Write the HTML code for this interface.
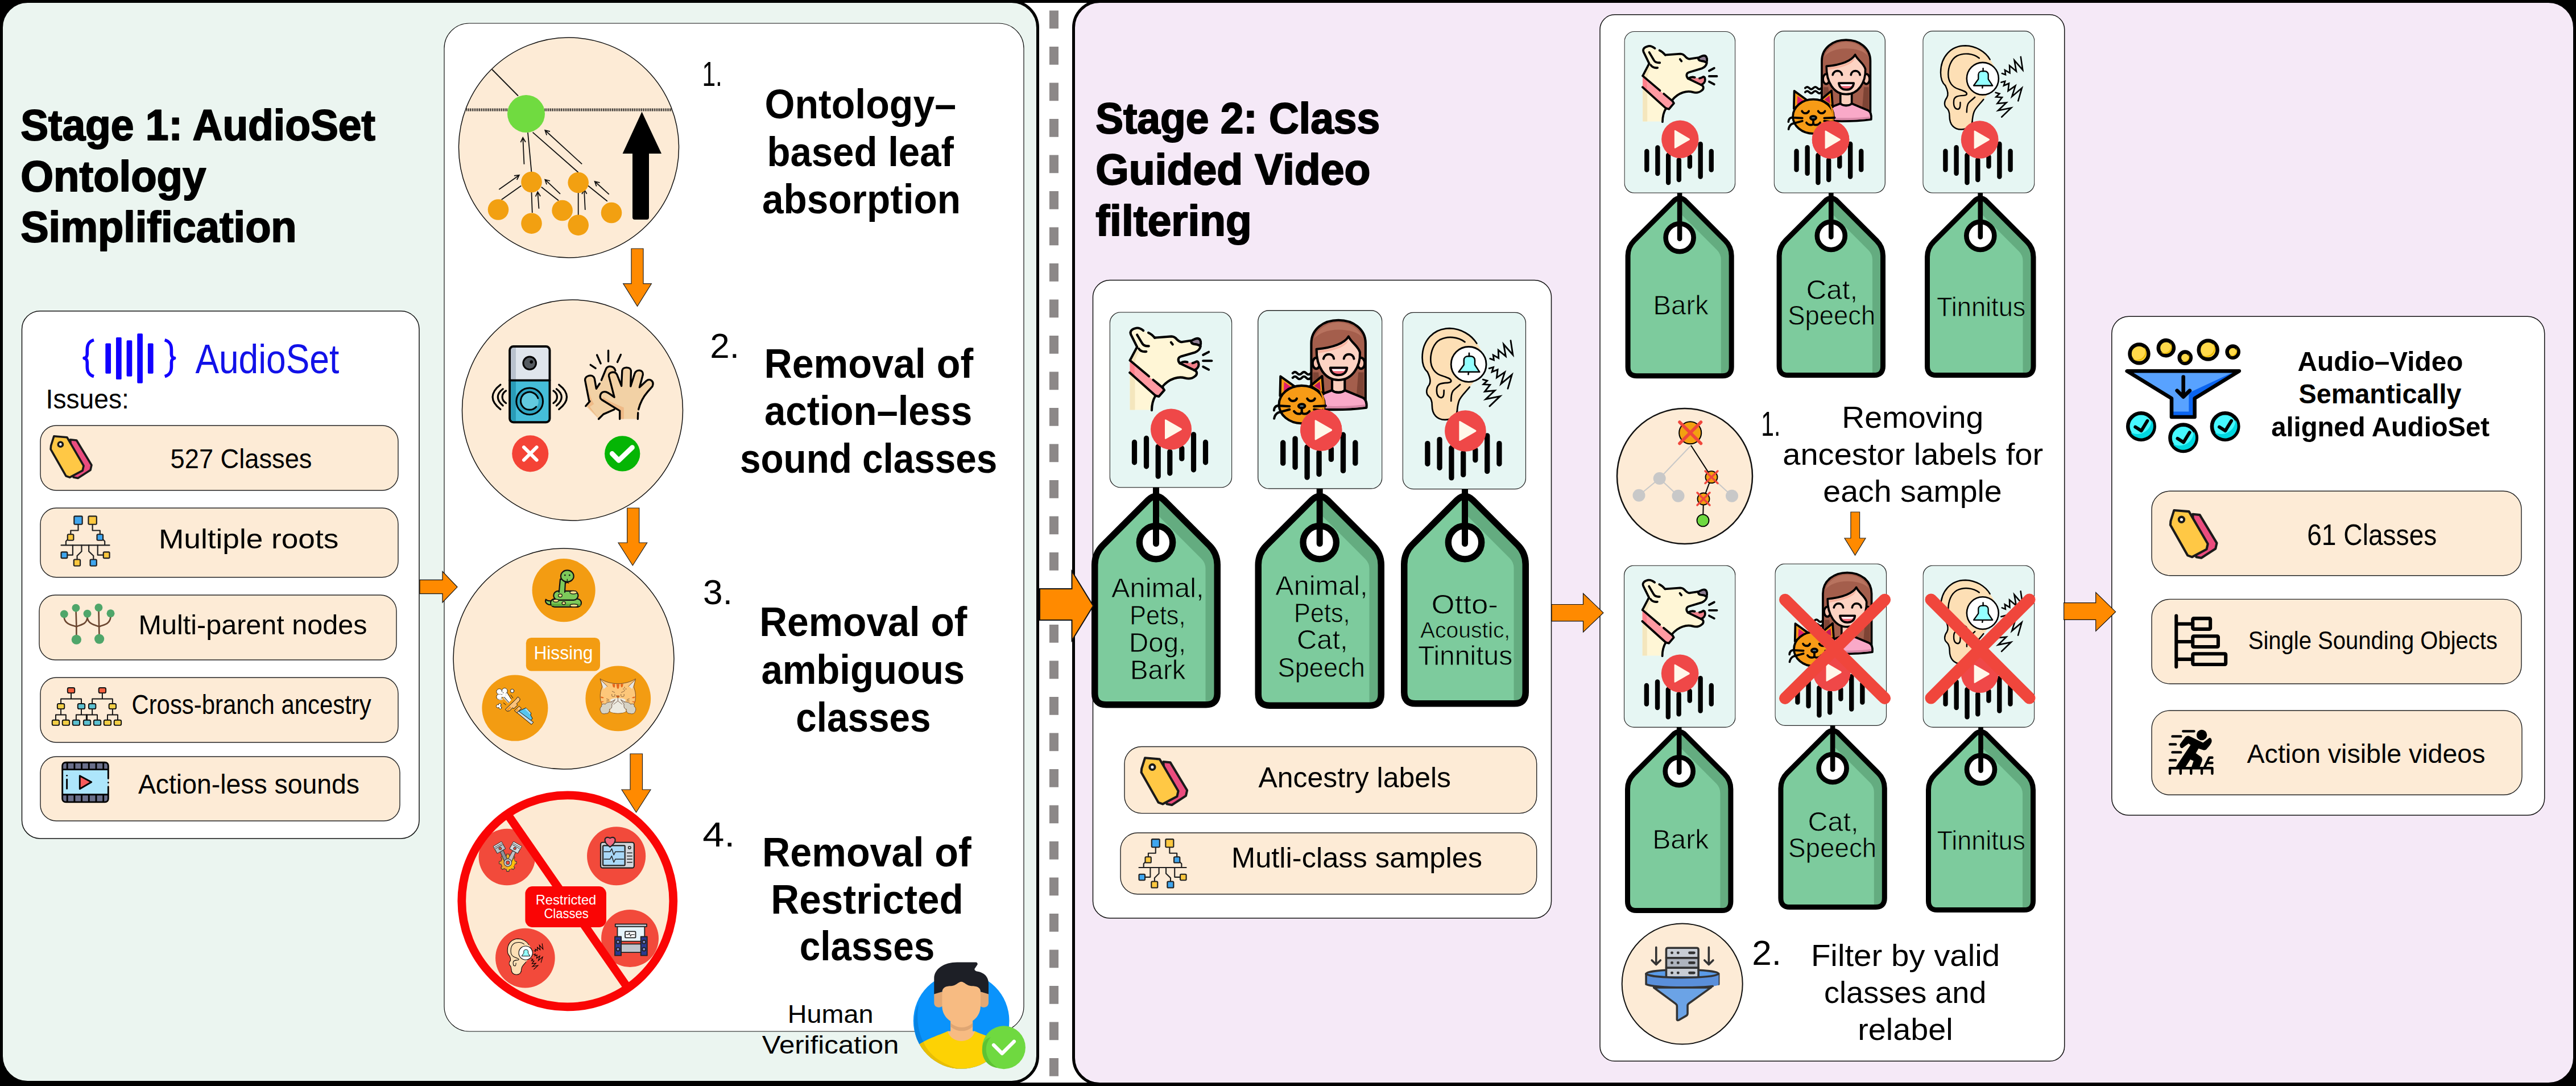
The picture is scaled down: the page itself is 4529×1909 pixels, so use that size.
<!DOCTYPE html>
<html><head><meta charset="utf-8"><title>AudioSet pipeline</title>
<style>
html,body{margin:0;padding:0;background:#fff;}
body{width:4529px;height:1909px;overflow:hidden;}
svg{display:block;font-family:"Liberation Sans", sans-serif;}
</style></head><body>
<svg width="4529" height="1909" viewBox="0 0 4529 1909">
<defs><symbol id="card-dog" viewBox="0 0 216 309" preserveAspectRatio="none"><rect x="0.75" y="0.75" width="214.5" height="307.5" rx="19" fill="#E6F6F3" stroke="#222" stroke-width="1.3"/><g transform="translate(29.5,21.8) scale(0.14733)" stroke-linecap="round" stroke-linejoin="round"><path d="M45,1020 L45,430 L130,270 L55,120 C40,80 70,55 120,45 C150,40 180,55 205,75 L265,100 C300,115 320,135 340,160 L540,145 C570,145 590,160 610,185 C630,205 650,215 670,210 L770,195 C800,185 820,165 850,165 C880,165 895,195 892,235 C885,300 860,320 820,335 L650,385 C620,395 610,430 640,465 L820,550 C850,565 850,600 820,620 C790,645 750,655 700,640 C630,620 520,640 430,745 L350,850 C320,900 305,970 300,1020 Z" fill="#FFF6D6"/><path d="M45,600 L105,650 L105,1020 L45,1020 Z" fill="#F4E6BD"/><path d="M470,690 C560,610 650,600 760,625 C800,630 830,610 845,590 C850,620 820,640 760,650 C660,640 560,640 470,720 Z" fill="#F4E6BD"/><path d="M45,445 L130,300 L150,330 C120,380 110,420 105,460 Z" fill="#F4E6BD"/><path d="M45,440 L440,760 L458,785 L388,862 L350,852 L45,578 Z" fill="#FF9AA2"/><path d="M45,440 L100,485 L100,625 L45,578 Z" fill="#FF7F8A"/><path d="M772,198 C800,186 822,168 850,168 C880,168 893,195 890,232 L884,258 C862,244 842,236 812,236 C787,234 776,218 772,198 Z" fill="#8E7D92"/><path d="M660,468 C720,458 780,462 840,442 C862,462 860,505 812,542 Z" fill="#F0808A"/><path fill="none" stroke="#000" stroke-width="28" d="M45,430 L130,270"/><path fill="none" stroke="#000" stroke-width="28" d="M130,270 L55,120 C40,80 70,55 120,45 C150,40 180,55 205,75"/><path fill="none" stroke="#000" stroke-width="28" d="M265,100 C300,115 320,135 340,160"/><path fill="none" stroke="#000" stroke-width="28" d="M130,125 L190,225 C205,255 230,262 270,260"/><path fill="none" stroke="#000" stroke-width="28" d="M150,290 C170,320 200,330 240,325"/><path fill="none" stroke="#000" stroke-width="28" d="M340,160 L540,145 C570,145 590,160 610,185 C630,205 650,215 670,210 L770,195"/><path fill="none" stroke="#000" stroke-width="28" d="M772,198 C800,186 822,168 850,168 C880,168 893,195 890,232 L884,258 C862,244 842,236 812,236 C787,234 776,218 772,198 Z"/><path fill="none" stroke="#000" stroke-width="28" d="M888,262 C880,300 860,320 820,335 L650,385 C620,395 610,430 640,465"/><path fill="none" stroke="#000" stroke-width="28" d="M640,465 L820,550 C850,565 850,600 820,620 C790,645 750,655 700,640 C630,620 520,640 430,745"/><path fill="none" stroke="#000" stroke-width="28" d="M648,462 C672,446 700,442 730,450"/><path fill="none" stroke="#000" stroke-width="28" d="M792,462 C812,460 826,450 842,442 C862,442 870,470 862,500 C852,525 832,540 812,546"/><path fill="none" stroke="#000" stroke-width="28" d="M535,215 L555,240"/><path fill="none" stroke="#000" stroke-width="28" d="M350,850 C320,900 305,970 305,1025"/><path fill="none" stroke="#000" stroke-width="28" d="M45,430 L272,620"/><path fill="none" stroke="#000" stroke-width="28" d="M322,662 L438,758"/><path fill="none" stroke="#000" stroke-width="28" d="M42,576 L350,850"/><path fill="none" stroke="#000" stroke-width="28" d="M438,758 L455,785 L390,860 L350,850"/><path fill="none" stroke="#000" stroke-width="28" d="M918,365 L985,330"/><path fill="none" stroke="#000" stroke-width="28" d="M918,435 L1020,435"/><path fill="none" stroke="#000" stroke-width="28" d="M918,505 L985,540"/></g><rect x="39.4" y="224.3" width="9.2" height="44.5" rx="4.6" fill="#000"/><rect x="60.4" y="217.3" width="9.2" height="58.5" rx="4.6" fill="#000"/><rect x="81.1" y="231.8" width="9.2" height="61.4" rx="4.6" fill="#000"/><rect x="101.7" y="240.8" width="9.2" height="47.0" rx="4.6" fill="#000"/><rect x="122.7" y="234.8" width="9.2" height="27.4" rx="4.6" fill="#000"/><rect x="143.4" y="210.6" width="9.2" height="71.2" rx="4.6" fill="#000"/><rect x="164.4" y="224.3" width="9.2" height="44.5" rx="4.6" fill="#000"/><circle cx="108.5" cy="206" r="36" fill="#EF4848"/><path d="M97.5,190 L97.5,222 Q97.5,224 99.5,223 L126.5,207.5 Q128.5,206 126.5,204.5 L99.5,189 Q97.5,188 97.5,190 Z" fill="#FFF8EA"/></symbol><symbol id="card-wc" viewBox="0 0 216 309" preserveAspectRatio="none"><rect x="0.75" y="0.75" width="214.5" height="307.5" rx="19" fill="#E6F6F3" stroke="#222" stroke-width="1.3"/><rect x="39.4" y="224.3" width="9.2" height="44.5" rx="4.6" fill="#000"/><rect x="60.4" y="217.3" width="9.2" height="58.5" rx="4.6" fill="#000"/><rect x="81.1" y="231.8" width="9.2" height="61.4" rx="4.6" fill="#000"/><rect x="101.7" y="240.8" width="9.2" height="47.0" rx="4.6" fill="#000"/><rect x="122.7" y="234.8" width="9.2" height="27.4" rx="4.6" fill="#000"/><rect x="143.4" y="210.6" width="9.2" height="71.2" rx="4.6" fill="#000"/><rect x="164.4" y="224.3" width="9.2" height="44.5" rx="4.6" fill="#000"/><circle cx="110" cy="207" r="36" fill="#EF4848"/><path d="M99,191 L99,223 Q99,225 101,224 L128,208.5 Q130,207 128,205.5 L101,190 Q99,189 99,191 Z" fill="#FFF8EA"/><g transform="translate(24,10.4) scale(0.1565)" stroke-linecap="round" stroke-linejoin="round"><path d="M440,1000 L440,300 C440,140 580,45 740,45 C900,45 1040,140 1040,300 L1040,1000 Z" fill="#A45E4C" stroke="#000" stroke-width="26"/><path d="M470,250 C520,120 640,70 740,70 C860,70 960,130 1010,240 C960,180 860,150 740,150 C620,150 520,190 470,250 Z" fill="#B8735F"/><path d="M460,620 L520,620 L560,1000 L460,1000 Z" fill="#7E4435"/><path d="M960,620 L1020,620 L1020,1000 L930,1000 Z" fill="#7E4435"/><path d="M670,690 L670,820 C700,850 780,850 810,820 L810,690 Z" fill="#FCCFBD" stroke="#000" stroke-width="26"/><path d="M560,860 L670,818 C700,850 780,850 810,818 L1010,900 C1050,920 1055,960 1050,1010 C900,1030 700,1035 560,1030 Z" fill="#F9A9C8" stroke="#000" stroke-width="26"/><path d="M575,990 C700,995 900,995 1035,975 L1035,1000 C900,1018 700,1020 575,1018 Z" fill="#D889A8"/><ellipse cx="495" cy="520" rx="40" ry="60" fill="#FAC3B0" stroke="#000" stroke-width="26"/><ellipse cx="990" cy="520" rx="40" ry="60" fill="#FAC3B0" stroke="#000" stroke-width="26"/><path d="M498,365 C650,350 800,310 852,225 C880,290 960,330 978,400 C985,560 890,705 740,705 C590,705 495,560 498,365 Z" fill="#FDD3C3" stroke="#000" stroke-width="26"/><path d="M512,380 C650,370 790,330 850,260 C840,320 760,370 520,410 Z" fill="#F9B4A0"/><path fill="none" stroke="#000" stroke-width="26" d="M575,470 C590,405 680,405 690,470"/><path fill="none" stroke="#000" stroke-width="26" d="M800,470 C810,405 900,405 912,470"/><path d="M650,570 L835,570 C830,625 790,650 742,650 C690,650 655,620 650,570 Z" fill="#F06878" stroke="#000" stroke-width="26"/><path d="M668,584 L818,584 C812,600 800,606 790,606 L695,606 C682,606 672,598 668,584 Z" fill="#fff"/><path d="M95,880 L100,665 L255,775 Z" fill="#F79B16" stroke="#000" stroke-width="26"/><path d="M430,770 L560,662 L575,860 Z" fill="#F79B16" stroke="#000" stroke-width="26"/><path d="M135,830 L140,725 L215,780 Z" fill="#E01E6C"/><path d="M470,770 L535,720 L545,820 Z" fill="#C4195E"/><ellipse cx="335" cy="975" rx="252" ry="208" fill="#F79B16" stroke="#000" stroke-width="26"/><path d="M520,800 C600,870 610,1000 560,1100 C580,1000 570,880 520,800 Z" fill="#E58A0A"/><path fill="none" stroke="#000" stroke-width="26" d="M195,910 C215,945 265,945 280,910"/><path fill="none" stroke="#000" stroke-width="26" d="M395,910 C415,945 465,945 480,910"/><ellipse cx="335" cy="992" rx="36" ry="22" fill="#5E7E8E" stroke="#000" stroke-width="26"/><path fill="none" stroke="#000" stroke-width="26" d="M335,1012 L335,1060"/><path fill="none" stroke="#000" stroke-width="26" d="M250,1050 C280,1090 330,1082 335,1060 C340,1082 390,1090 420,1050"/><path fill="none" stroke="#000" stroke-width="26" d="M200,995 L70,988 C45,992 30,1010 28,1040"/><path fill="none" stroke="#000" stroke-width="26" d="M200,1030 L80,1062 C50,1075 35,1100 30,1130"/><path fill="none" stroke="#000" stroke-width="26" d="M470,995 L600,990"/><path fill="none" stroke="#000" stroke-width="26" d="M470,1030 L612,1048"/><path fill="none" stroke="#000" stroke-width="26" stroke-width="20" d="M235,630 q25,-28 50,0 t50,0 t50,0 t50,0"/><path fill="none" stroke="#000" stroke-width="26" stroke-width="20" d="M235,680 q25,-28 50,0 t50,0 t50,0 t50,0"/></g><circle cx="110" cy="207" r="36" fill="#EF4848"/><path d="M99,191 L99,223 Q99,225 101,224 L128,208.5 Q130,207 128,205.5 L101,190 Q99,189 99,191 Z" fill="#FFF8EA"/></symbol><symbol id="card-ear" viewBox="0 0 216 309" preserveAspectRatio="none"><rect x="0.75" y="0.75" width="214.5" height="307.5" rx="19" fill="#E6F6F3" stroke="#222" stroke-width="1.3"/><g transform="translate(24.5,16.5) scale(0.16575)" stroke-linecap="round" stroke-linejoin="round"><path d="M638,232 C580,140 470,75 350,72 C180,72 62,200 62,380 C62,450 82,500 117,530 C147,590 150,640 135,665 C100,710 100,760 130,785 C160,810 165,840 165,880 C165,980 220,1032 300,1032 C370,1032 420,990 430,940 C440,870 455,820 485,780 L600,640 L700,450 L680,300 Z" fill="#FDDFB5"/><path fill="none" stroke="#000" stroke-width="16" d="M635,230 C580,140 470,75 350,72 C180,72 62,200 62,380 C62,450 82,500 117,530 C147,590 150,640 135,665 C100,710 100,760 130,785 C160,810 165,840 165,880 C165,980 220,1032 300,1032 C370,1032 420,990 430,940"/><path fill="none" stroke="#000" stroke-width="16" d="M560,688 C520,740 470,780 450,830 C435,870 430,920 428,950"/><path fill="none" stroke="#000" stroke-width="16" d="M510,215 C440,160 330,150 250,190 C180,230 150,320 150,400 C150,490 200,550 270,570 C330,590 360,600 365,620 C370,640 340,645 300,645 C250,650 220,660 215,700 C210,750 220,795 260,800 C290,800 290,760 290,722"/><path fill="none" stroke="#000" stroke-width="16" d="M460,662 C420,700 400,710 385,730 C365,760 365,800 365,835"/><circle cx="550" cy="450" r="185" fill="#fff" stroke="#000" stroke-width="17"/><path d="M445,530 L500,455 L500,405 C500,380 520,365 545,365 L575,365 C600,365 615,385 615,405 L615,455 L665,530 Z" fill="#94FFFF" stroke="#000" stroke-width="15"/><path fill="none" stroke="#000" stroke-width="16" d="M555,332 L555,365"/><path fill="none" stroke="#000" stroke-width="16" d="M549,536 L546,556"/><path fill="none" stroke="#000" stroke-width="17" stroke-linejoin="miter" d="M775,390 L815,405 L808,352 L865,385 L862,300 L940,365 L918,240 L1015,350 L992,200"/><path fill="none" stroke="#000" stroke-width="17" stroke-linejoin="miter" d="M765,492 L810,480 L795,530 L855,505 L845,590 L930,532 L890,655 L1005,558 L962,705"/><path fill="none" stroke="#000" stroke-width="17" stroke-linejoin="miter" d="M700,610 L745,622 L705,660 L775,665 L720,735 L825,725 L730,815 L880,785 L770,890"/></g><rect x="39.4" y="224.3" width="9.2" height="44.5" rx="4.6" fill="#000"/><rect x="60.4" y="217.3" width="9.2" height="58.5" rx="4.6" fill="#000"/><rect x="81.1" y="231.8" width="9.2" height="61.4" rx="4.6" fill="#000"/><rect x="101.7" y="240.8" width="9.2" height="47.0" rx="4.6" fill="#000"/><rect x="122.7" y="234.8" width="9.2" height="27.4" rx="4.6" fill="#000"/><rect x="143.4" y="210.6" width="9.2" height="71.2" rx="4.6" fill="#000"/><rect x="164.4" y="224.3" width="9.2" height="44.5" rx="4.6" fill="#000"/><circle cx="110" cy="207" r="36" fill="#EF4848"/><path d="M99,191 L99,223 Q99,225 101,224 L128,208.5 Q130,207 128,205.5 L101,190 Q99,189 99,191 Z" fill="#FFF8EA"/></symbol></defs>
<rect x="0" y="0" width="4529" height="1909" fill="#fff"/>
<rect x="0" y="0" width="70" height="1909" fill="#000"/>
<rect x="4459" y="0" width="70" height="1909" fill="#000"/>
<rect x="0" y="0" width="4529" height="5" fill="#000"/>
<rect x="0" y="1903" width="4529" height="6" fill="#000"/>
<rect x="2.5" y="2.5" width="1822" height="1900" rx="46" fill="#EBF5F0" stroke="#000" stroke-width="5"/>
<rect x="1887.5" y="2.5" width="2639" height="1903" rx="46" fill="#F5E9F7" stroke="#000" stroke-width="5"/>
<line x1="1853" y1="18.4" x2="1853" y2="1909" stroke="#8C8888" stroke-width="16" stroke-dasharray="31.75 31.75"/>
<text x="36.2" y="246.0" font-size="76.0" font-weight="bold" textLength="623.6" lengthAdjust="spacingAndGlyphs" stroke="#000" stroke-width="2" stroke-linejoin="round">Stage 1: AudioSet</text>
<text x="36.2" y="336.0" font-size="76.0" font-weight="bold" textLength="326.1" lengthAdjust="spacingAndGlyphs" stroke="#000" stroke-width="2" stroke-linejoin="round">Ontology</text>
<text x="36.2" y="425.4" font-size="76.0" font-weight="bold" textLength="485.4" lengthAdjust="spacingAndGlyphs" stroke="#000" stroke-width="2" stroke-linejoin="round">Simplification</text>
<rect x="38.5" y="546.7" width="698.5" height="927.3" rx="32" fill="#fff" stroke="#111" stroke-width="1.5"/>
<g transform="translate(130,570) scale(0.18633424637114057)" stroke-linecap="round" stroke-linejoin="round"><rect x="297" y="180" width="52" height="285" rx="9" fill="#1100FF"/><rect x="397" y="123" width="52" height="398" rx="9" fill="#1100FF"/><rect x="497" y="152" width="52" height="340" rx="9" fill="#1100FF"/><rect x="597" y="87" width="52" height="470" rx="9" fill="#1100FF"/><rect x="697" y="180" width="52" height="285" rx="9" fill="#1100FF"/><path fill="none" stroke="#1100FF" stroke-width="30" stroke-linecap="butt" d="M188,148 C140,162 125,192 125,240 L125,282 C125,305 112,318 97,320 C112,322 125,335 125,358 L125,400 C125,448 140,478 188,492"/><path fill="none" stroke="#1100FF" stroke-width="30" stroke-linecap="butt" d="M857,148 C905,162 920,192 920,240 L920,282 C920,305 933,318 948,320 C933,322 920,335 920,358 L920,400 C920,448 905,478 857,492"/></g>
<text x="343.4" y="656.0" font-size="73.0" fill="#1111E8" textLength="252.8" lengthAdjust="spacingAndGlyphs">AudioSet</text>
<text x="80.6" y="717.6" font-size="48.0" textLength="146.2" lengthAdjust="spacingAndGlyphs">Issues:</text>
<rect x="71.0" y="748.0" width="629.0" height="114.0" rx="28" fill="#FDEBD6" stroke="#222" stroke-width="1.4"/>
<text x="299.6" y="823.0" font-size="48.0" textLength="248.8" lengthAdjust="spacingAndGlyphs">527 Classes</text>
<rect x="71.0" y="893.0" width="629.0" height="121.7" rx="28" fill="#FDEBD6" stroke="#222" stroke-width="1.4"/>
<text x="279.0" y="964.3" font-size="48.0" textLength="316.3" lengthAdjust="spacingAndGlyphs">Multiple roots</text>
<rect x="69.0" y="1046.0" width="628.0" height="114.0" rx="28" fill="#FDEBD6" stroke="#222" stroke-width="1.4"/>
<text x="243.6" y="1115.0" font-size="48.0" textLength="401.8" lengthAdjust="spacingAndGlyphs">Multi-parent nodes</text>
<rect x="71.0" y="1191.0" width="629.0" height="114.0" rx="28" fill="#FDEBD6" stroke="#222" stroke-width="1.4"/>
<text x="231.4" y="1254.5" font-size="48.0" textLength="421.3" lengthAdjust="spacingAndGlyphs">Cross-branch ancestry</text>
<rect x="71.0" y="1330.0" width="632.0" height="113.0" rx="28" fill="#FDEBD6" stroke="#222" stroke-width="1.4"/>
<text x="242.9" y="1394.5" font-size="48.0" textLength="389.1" lengthAdjust="spacingAndGlyphs">Action-less sounds</text>
<g transform="translate(80,750) scale(0.23952)" stroke-linecap="round" stroke-linejoin="round"><path d="M182,95 L228,100 L338,282 L330,318 L238,378 L205,372 Z" fill="#EA4C7E" stroke="#1A1A1A" stroke-width="15"/><path d="M62,70 L158,78 L280,287 L272,322 L178,372 L150,362 L38,165 L40,140 Z" fill="#FFC845" stroke="#1A1A1A" stroke-width="15"/><circle cx="110" cy="130" r="17" fill="#fff" stroke="#1A1A1A" stroke-width="15" stroke-width="12"/></g>
<g transform="translate(80,750) scale(0.23952)" stroke-linecap="round" stroke-linejoin="round"><path fill="none" stroke="#1F1F1F" stroke-width="9" d="M240,717 L240,762 L185,762 L185,790"/><path fill="none" stroke="#1F1F1F" stroke-width="9" d="M345,717 L345,762 L400,762 L400,790"/><path fill="none" stroke="#1F1F1F" stroke-width="9" d="M165,826 L150,841 L150,868"/><path fill="none" stroke="#1F1F1F" stroke-width="9" d="M420,826 L435,841 L435,868"/><path fill="none" stroke="#1F1F1F" stroke-width="9" d="M115,870 L470,870"/><path fill="none" stroke="#1F1F1F" stroke-width="9" d="M200,870 L200,942 L160,942"/><path fill="none" stroke="#1F1F1F" stroke-width="9" d="M265,870 L265,915 L232,948 L232,975"/><path fill="none" stroke="#1F1F1F" stroke-width="9" d="M318,870 L318,915 L352,948 L352,975"/><path fill="none" stroke="#1F1F1F" stroke-width="9" d="M383,870 L383,942 L425,942"/><rect x="210" y="657" width="60" height="60" rx="7" fill="#3FA6EF" stroke="#1F1F1F" stroke-width="9"/><rect x="315" y="657" width="60" height="60" rx="7" fill="#FCC83F" stroke="#1F1F1F" stroke-width="9"/><rect x="162" y="790" width="44" height="44" rx="7" fill="#FCC83F" stroke="#1F1F1F" stroke-width="9"/><rect x="378" y="790" width="44" height="44" rx="7" fill="#3FA6EF" stroke="#1F1F1F" stroke-width="9"/><rect x="115" y="920" width="45" height="45" rx="7" fill="#3FA6EF" stroke="#1F1F1F" stroke-width="9"/><rect x="208" y="975" width="47" height="47" rx="7" fill="#FCC83F" stroke="#1F1F1F" stroke-width="9"/><rect x="328" y="975" width="47" height="47" rx="7" fill="#3FA6EF" stroke="#1F1F1F" stroke-width="9"/><rect x="425" y="920" width="45" height="45" rx="7" fill="#FCC83F" stroke="#1F1F1F" stroke-width="9"/></g>
<g transform="translate(80,1050) scale(0.23952)" stroke-linecap="round" stroke-linejoin="round"><path fill="none" stroke="#6B4630" stroke-width="11" d="M227,310 L227,210 L223,78"/><path fill="none" stroke="#6B4630" stroke-width="11" d="M137,150 C145,200 200,205 227,215 C260,200 300,200 307,150"/><path fill="none" stroke="#6B4630" stroke-width="11" d="M390,75 L395,305"/><path fill="none" stroke="#6B4630" stroke-width="11" d="M307,150 C315,200 370,205 395,215 C430,200 470,200 478,145"/><circle cx="137" cy="123" r="29" fill="#4FA66A"/><circle cx="223" cy="78" r="29" fill="#4FA66A"/><circle cx="307" cy="120" r="29" fill="#4FA66A"/><circle cx="390" cy="75" r="29" fill="#4FA66A"/><circle cx="478" cy="118" r="29" fill="#4FA66A"/><circle cx="227" cy="310" r="36" fill="#4FA66A"/><circle cx="395" cy="305" r="36" fill="#4FA66A"/></g>
<g transform="translate(80,1050) scale(0.23952)" stroke-linecap="round" stroke-linejoin="round"><path fill="none" stroke="#111" stroke-width="8" d="M188,703 L188,745 M113,780 L113,745 L263,745 L263,780"/><path fill="none" stroke="#111" stroke-width="8" d="M417,703 L417,745 M343,780 L343,745 L492,745 L492,780"/><path fill="none" stroke="#111" stroke-width="8" d="M113,820 L113,860 M75,900 L75,862 L150,862 L150,900"/><path fill="none" stroke="#111" stroke-width="8" d="M263,820 L263,860 M225,900 L225,862 L305,862 L305,900"/><path fill="none" stroke="#111" stroke-width="8" d="M343,820 L343,860 M300,900 L300,862 L380,862 L380,900"/><path fill="none" stroke="#111" stroke-width="8" d="M492,820 L492,860 M455,900 L455,862 L530,862 L530,900"/><rect x="162" y="664" width="52" height="38" rx="10" fill="#F5603F" stroke="#111" stroke-width="8"/><rect x="391" y="664" width="52" height="38" rx="10" fill="#F5603F" stroke="#111" stroke-width="8"/><rect x="87" y="781" width="52" height="38" rx="10" fill="#F3CF46" stroke="#111" stroke-width="8"/><rect x="237" y="781" width="52" height="38" rx="10" fill="#5CC0D0" stroke="#111" stroke-width="8"/><rect x="317" y="781" width="52" height="38" rx="10" fill="#5CC0D0" stroke="#111" stroke-width="8"/><rect x="466" y="781" width="52" height="38" rx="10" fill="#F3CF46" stroke="#111" stroke-width="8"/><rect x="49" y="901" width="52" height="38" rx="10" fill="#F3CF46" stroke="#111" stroke-width="8"/><rect x="124" y="901" width="52" height="38" rx="10" fill="#F3CF46" stroke="#111" stroke-width="8"/><rect x="199" y="901" width="52" height="38" rx="10" fill="#5CC0D0" stroke="#111" stroke-width="8"/><rect x="279" y="901" width="52" height="38" rx="10" fill="#5CC0D0" stroke="#111" stroke-width="8"/><rect x="354" y="901" width="52" height="38" rx="10" fill="#5CC0D0" stroke="#111" stroke-width="8"/><rect x="429" y="901" width="52" height="38" rx="10" fill="#F3CF46" stroke="#111" stroke-width="8"/><rect x="504" y="901" width="52" height="38" rx="10" fill="#F3CF46" stroke="#111" stroke-width="8"/></g>
<g transform="translate(90,1320) scale(0.1105)" stroke-linecap="round" stroke-linejoin="round"><rect x="178" y="183" width="731" height="630" rx="55" fill="#6A6F8A"/><rect x="178" y="300" width="731" height="392" fill="#ADE6FB"/><path fill="none" stroke="#000" stroke-width="26" stroke-linecap="butt" d="M255,190 L255,295 M255,695 L255,805"/><path fill="none" stroke="#000" stroke-width="26" stroke-linecap="butt" d="M370,190 L370,295 M370,695 L370,805"/><path fill="none" stroke="#000" stroke-width="26" stroke-linecap="butt" d="M485,190 L485,295 M485,695 L485,805"/><path fill="none" stroke="#000" stroke-width="26" stroke-linecap="butt" d="M600,190 L600,295 M600,695 L600,805"/><path fill="none" stroke="#000" stroke-width="26" stroke-linecap="butt" d="M715,190 L715,295 M715,695 L715,805"/><path fill="none" stroke="#000" stroke-width="26" stroke-linecap="butt" d="M830,190 L830,295 M830,695 L830,805"/><path fill="none" stroke="#000" stroke-width="26" stroke-linecap="butt" d="M178,295 L909,295 M178,695 L909,695"/><path fill="none" stroke="#000" stroke-width="26" d="M908,440 L908,235 C908,205 885,183 855,183 L232,183 C202,183 178,205 178,235 L178,760 C178,790 202,813 232,813 L855,813 C885,813 908,790 908,760 L908,570"/><circle cx="908" cy="505" r="13" fill="#000"/><path d="M455,395 L455,605 L640,495 Z" fill="#F85B5B" stroke="#000" stroke-width="26"/><circle cx="250" cy="392" r="13" fill="#000"/><path fill="none" stroke="#000" stroke-width="26" d="M250,455 L250,600"/></g>
<rect x="781.0" y="41.0" width="1019.0" height="1772.0" rx="44" fill="#fff" stroke="#111" stroke-width="1.2"/>
<circle cx="1000.0" cy="259.5" r="193.5" fill="#FDEBD6" stroke="#111" stroke-width="1.5"/>
<circle cx="1006.5" cy="721.0" r="194.0" fill="#FDEBD6" stroke="#111" stroke-width="1.5"/>
<circle cx="991.0" cy="1158.0" r="194.0" fill="#FDEBD6" stroke="#111" stroke-width="1.5"/>
<line x1="820" y1="193" x2="1180" y2="193" stroke="#111" stroke-width="5" stroke-dasharray="1.6 1.6"/><path stroke="#111" stroke-width="1.8" fill="none" d="M865,122 L911,168.5"/><path stroke="#111" stroke-width="1.8" fill="none" d="M928,233 L934.5,303 M936.6,232.6 L1016.7,303"/><path stroke="#111" stroke-width="1.8" fill="none" d="M916.3,326.5 L881.7,351 M934.5,338 L935.8,374 M951.8,328.7 L982,352.5 M1016.7,338 L1016.7,378 M1034,326.5 L1067.8,353.8"/><path stroke="#111" stroke-width="1.8" fill="none" d="M921.5,288.8 L919.3,242.0 M924.0,249.7 L919.3,242.0 L915.4,250.1"/><path stroke="#111" stroke-width="1.8" fill="none" d="M1023.2,288.4 L958.3,229.0 M967.0,231.1 L958.3,229.0 L961.2,237.5"/><path stroke="#111" stroke-width="1.8" fill="none" d="M877.3,333.0 L912.8,307.9 M908.8,316.0 L912.8,307.9 L903.9,308.9"/><path stroke="#111" stroke-width="1.8" fill="none" d="M985.0,340.8 L958.3,315.7 M967.0,318.0 L958.3,315.7 L961.1,324.3"/><path stroke="#111" stroke-width="1.8" fill="none" d="M947.5,366.7 L945.3,337.3 M950.2,344.9 L945.3,337.3 L941.6,345.5"/><path stroke="#111" stroke-width="1.8" fill="none" d="M1028.8,369.0 L1027.0,333.0 M1031.7,340.7 L1027.0,333.0 L1023.1,341.1"/><path stroke="#111" stroke-width="1.8" fill="none" d="M1070.8,341.6 L1045.7,319.0 M1054.5,321.1 L1045.7,319.0 L1048.7,327.5"/><circle cx="925" cy="200" r="33" fill="#70DB40"/><circle cx="934.5" cy="320" r="18.3" fill="#F2A011"/><circle cx="1016.7" cy="321" r="18.3" fill="#F2A011"/><circle cx="876" cy="368.5" r="18.3" fill="#F2A011"/><circle cx="934.5" cy="392.7" r="18.3" fill="#F2A011"/><circle cx="988.6" cy="370" r="18.3" fill="#F2A011"/><circle cx="1016.7" cy="395.7" r="18.3" fill="#F2A011"/><circle cx="1075" cy="374" r="18.3" fill="#F2A011"/><path d="M1112,270 L1094.6,270 L1128.5,196.6 L1163,270 L1141,270 L1141,382 Q1141,386 1137,386 L1116,386 Q1112,386 1112,382 Z" fill="#000"/>
<g transform="translate(855,595) scale(0.21646427257181203)" stroke-linecap="round" stroke-linejoin="round"><rect x="190" y="65" width="325" height="615" rx="30" fill="#DFE5EC"/><path d="M190,340 L515,340 L515,650 Q515,680 485,680 L220,680 Q190,680 190,650 Z" fill="#45BDD9"/><path d="M200,95 Q200,75 220,75 L240,75 L240,340 L200,340 Z" fill="#B9C2CE"/><path d="M200,340 L240,340 L240,670 L220,670 Q200,670 200,650 Z" fill="#2A9CB8"/><rect x="190" y="65" width="325" height="615" rx="30" fill="none" stroke="#000" stroke-width="18"/><path d="M190,340 L515,340" stroke="#000" stroke-width="18"/><circle cx="352" cy="200" r="52" fill="#555B61" stroke="#000" stroke-width="14"/><circle cx="366" cy="190" r="13" fill="#000"/><circle cx="352" cy="510" r="108" fill="#2FA5C2" stroke="#000" stroke-width="14"/><circle cx="352" cy="510" r="72" fill="#62CADF"/><path d="M420,485 A72,72 0 1 0 405,555" fill="none" stroke="#000" stroke-width="14"/><path fill="none" stroke="#000" stroke-width="15" d="M115,375 C30,440 30,510 115,575 M135,410 C80,450 80,500 135,545 M160,425 C120,450 120,500 160,525"/><path fill="none" stroke="#000" stroke-width="15" d="M590,375 C675,440 675,510 590,575 M570,410 C625,450 625,500 570,545 M545,425 C585,450 585,500 545,525"/><circle cx="357" cy="935" r="148" fill="#F44336"/><path d="M305,883 L409,987 M409,883 L305,987" stroke="#fff" stroke-width="28" fill="none"/><circle cx="1105" cy="935" r="144" fill="#05B505"/><path d="M1022,935 L1075,990 L1185,885" stroke="#fff" stroke-width="40" fill="none"/></g><g transform="translate(1025,612) scale(0.11970313622216903)" stroke-linecap="round" stroke-linejoin="round"><path d="M40,850 L90,780 L30,470 C25,400 150,370 170,450 L195,595 L240,520 L270,470 L340,300 C370,250 460,260 475,330 L480,420 L470,720 L530,920 L460,900 L300,970 L230,1040 Z" fill="#F2D1A5"/><path d="M55,470 C70,600 120,780 200,880 L300,960 L230,1030 L60,850 L110,790 Z" fill="#EFBA87"/><path d="M100,860 L160,820 L300,960 L230,1030 Z" fill="#F2D1A5"/><path fill="none" stroke="#000" stroke-width="28" d="M40,850 L100,780 M90,775 L30,470 C25,400 150,370 170,450 L195,595 M195,595 L245,520 M270,470 L340,300 C370,250 460,260 475,330 M230,1040 L300,970 L460,900"/><path d="M540,1040 L540,920 L280,760 C230,730 250,640 320,640 C350,640 380,660 460,720 L380,410 C370,350 470,330 500,390 L565,555 L575,330 C580,270 700,270 705,330 L700,560 L760,370 C790,300 890,320 880,390 L830,575 L930,480 C980,440 1050,480 1020,560 L950,640 C880,720 840,800 815,900 L805,1040 Z" fill="#F2D1A5"/><path d="M280,760 L540,920 L600,900 L600,1040 L540,1040 L540,925 Z M300,720 C400,790 520,840 600,870 L600,900 L540,920 L280,760 Z" fill="#EFBA87"/><path fill="none" stroke="#000" stroke-width="28" d="M540,1040 L540,920 L280,760 C230,730 250,640 320,640 C350,640 380,660 460,720 L380,410 C370,350 470,330 500,390 L565,555 L575,330 C580,270 700,270 705,330 L700,560 L760,370 C790,300 890,320 880,390 L830,575 L930,480 C980,440 1050,480 1020,560 L950,640 C880,720 840,800 815,900 M808,950 L805,1040"/><path fill="none" stroke="#000" stroke-width="28" d="M110,245 L185,295 M205,100 L260,225 M372,35 L372,195 M555,95 L505,205"/></g>
<g transform="translate(840,975) scale(0.30846108763379504)" stroke-linecap="round" stroke-linejoin="round"><circle cx="490" cy="203" r="180" fill="#F39C12"/><circle cx="212" cy="874" r="188" fill="#F39C12"/><circle cx="800" cy="820" r="186" fill="#F39C12"/><rect x="275" y="473" width="422" height="190" rx="30" fill="#F39C12"/><path d="M425,285 C400,290 380,275 388,255 C395,262 410,265 425,262 Z" fill="#7DC95A" stroke="#111" stroke-width="7"/><rect x="415" y="252" width="175" height="46" rx="23" fill="#7DC95A" stroke="#111" stroke-width="7"/><path d="M420,280 L585,280 L585,292 L420,292 Z" fill="#5DAA3A"/><rect x="432" y="207" width="140" height="52" rx="26" fill="#7DC95A" stroke="#111" stroke-width="7"/><path d="M463,214 L470,140 L500,140 L496,214" fill="#7DC95A" stroke="#111" stroke-width="7"/><ellipse cx="510" cy="122" rx="37" ry="33" fill="#7DC95A" stroke="#111" stroke-width="7"/><ellipse cx="470" cy="233" rx="11" ry="9" fill="#F8E08A" stroke="#111" stroke-width="4"/><ellipse cx="545" cy="215" rx="20" ry="9" fill="#F8E08A" stroke="#111" stroke-width="4"/><ellipse cx="445" cy="262" rx="16" ry="8" fill="#F8E08A" stroke="#111" stroke-width="4"/><ellipse cx="490" cy="276" rx="10" ry="8" fill="#F8E08A" stroke="#111" stroke-width="4"/><ellipse cx="548" cy="290" rx="22" ry="8" fill="#F8E08A" stroke="#111" stroke-width="4"/><circle cx="497" cy="117" r="4.5" fill="#111"/><circle cx="523" cy="117" r="4.5" fill="#111"/><path d="M510,140 L510,160 M502,153 L518,163 M518,153 L502,163" stroke="#111" stroke-width="4"/></g><g transform="translate(860,1200) scale(0.08285004142502071)" stroke-linecap="round" stroke-linejoin="round"><path d="M290,275 L380,210 L470,365 L410,430 Z" fill="#fff"/><path d="M300,330 L330,300 L430,420 L405,435 Z" fill="#DADADA"/><path d="M290,275 L420,420 M380,210 L470,350" fill="none" stroke="#111" stroke-width="12"/><g stroke="#111" stroke-width="12" fill="#fff"><circle cx="215" cy="190" r="58"/><circle cx="330" cy="175" r="58"/><circle cx="215" cy="300" r="58"/><circle cx="300" cy="260" r="50"/></g><g fill="#fff"><circle cx="215" cy="190" r="52"/><circle cx="330" cy="175" r="52"/><circle cx="215" cy="300" r="52"/><circle cx="300" cy="250" r="60"/></g><path d="M175,320 C200,345 240,350 270,330 L300,360 C260,375 210,370 175,340 Z" fill="#DADADA"/><circle cx="268" cy="250" r="9" fill="#111"/><circle cx="298" cy="215" r="9" fill="#111"/><g stroke="#111" stroke-width="12" fill="#fff"><circle cx="185" cy="500" r="32"/><circle cx="225" cy="470" r="28"/><circle cx="235" cy="530" r="28"/></g><g fill="#fff"><circle cx="185" cy="500" r="26"/><circle cx="225" cy="470" r="22"/><circle cx="235" cy="530" r="22"/><circle cx="212" cy="500" r="22"/></g><circle cx="490" cy="175" r="38" fill="#fff" stroke="#111" stroke-width="12"/><path d="M458,262 L505,325 M305,430 L355,470" fill="none" stroke="#111" stroke-width="12"/><path d="M600,615 L780,535 L890,645 L880,690 L920,760 L880,805 Z" fill="#56C5EE" stroke="#111" stroke-width="12"/><path d="M760,560 L790,545 L880,645 L870,670 Z" fill="#A9E3F8"/><path d="M590,630 L620,600 L940,840 L900,885 Z" fill="#C9DAE3" stroke="#111" stroke-width="12"/><path d="M345,565 L560,360 L610,300 L655,345 L645,385 L580,450 L605,475 L520,555 L500,530 L430,600 L385,605 Z" fill="#FCC27A" stroke="#111" stroke-width="12"/><path d="M365,570 L440,500 L470,530 L410,590 L390,595 Z" fill="#F99B1E"/><path d="M540,590 L635,500 L685,545 L590,635 Z" fill="#FCC27A" stroke="#111" stroke-width="12"/><path d="M560,590 L600,555 L620,575 L585,610 Z" fill="#F99B1E"/></g><g transform="translate(1040,1180) scale(0.08285004142502071)" stroke-linecap="round" stroke-linejoin="round"><path d="M185,160 C300,230 420,262 560,262 C700,262 820,230 935,160 L895,335 C925,400 940,480 935,560 C930,720 800,890 560,895 C320,890 190,720 185,560 C180,470 195,400 225,335 Z" fill="#FDC77A" stroke="#4A2A1A" stroke-width="9"/><path d="M198,195 L330,318 L258,378 Z" fill="#E6E6E6"/><path d="M922,195 L790,318 L862,378 Z" fill="#E6E6E6"/><path d="M195,180 L335,320 M925,180 L785,320" fill="none" stroke="#4A2A1A" stroke-width="9"/><path d="M440,270 L500,270 L495,340 C480,350 465,345 455,330 Z" fill="#E8661A"/><path d="M525,270 L595,270 L580,360 C570,375 550,375 540,360 Z" fill="#E8661A"/><path d="M615,270 L675,270 L660,325 C650,345 630,345 625,330 Z" fill="#E8661A"/><path d="M200,535 C230,540 255,550 265,565 C240,575 215,572 198,565 Z" fill="#E8661A"/><path d="M200,665 C230,660 255,650 265,640 C240,632 215,635 198,642 Z" fill="#E8661A"/><path d="M920,535 C890,540 865,550 855,565 C880,575 905,572 922,565 Z" fill="#E8661A"/><path d="M920,665 C890,660 865,650 855,640 C880,632 905,635 922,642 Z" fill="#E8661A"/><path d="M400,600 C450,560 670,560 720,600 L720,860 C650,895 470,895 400,860 Z" fill="#ECEAE0"/><path fill="none" stroke="#4A2A1A" stroke-width="8" d="M432,488 L432,520 C432,545 495,545 495,520 L495,488 M625,488 L625,520 C625,545 690,545 690,520 L690,488"/><path fill="none" stroke="#4A2A1A" stroke-width="8" d="M438,425 L490,450 M632,450 L688,425"/><path fill="none" stroke="#4A2A1A" stroke-width="8" d="M320,585 L365,600 M320,630 L365,625 M800,585 L755,600 M800,630 L755,625"/><path fill="none" stroke="#4A2A1A" stroke-width="8" d="M560,545 L560,630 L470,700 M560,630 L650,700"/><path d="M530,520 L590,520 C590,545 570,560 560,560 C550,560 530,545 530,520 Z" fill="#E8661A" stroke="#4A2A1A" stroke-width="6"/><path fill="none" stroke="#4A2A1A" stroke-width="8" d="M700,335 L700,355 M700,395 L700,415 M670,375 L685,375 M720,375 L740,375"/><path fill="#D6D2C4" stroke="#4A2A1A" stroke-width="9" d="M420,650 L500,600 L430,700 C440,760 420,800 380,805 C390,860 350,905 300,895 C260,915 200,895 195,850 C170,820 180,760 215,745 C200,700 250,680 290,700 C310,665 370,650 420,650 Z"/><path fill="#D6D2C4" stroke="#4A2A1A" stroke-width="9" d="M700,650 L620,600 L690,700 C680,760 700,800 740,805 C730,860 770,905 820,895 C860,915 920,895 925,850 C950,820 940,760 905,745 C920,700 870,680 830,700 C810,665 750,650 700,650 Z"/></g>
<text x="938.4" y="1159.0" font-size="33.0" fill="#fff" textLength="104.1" lengthAdjust="spacingAndGlyphs">Hissing</text>
<g transform="translate(800,1385) scale(0.3683241252302026)" stroke-linecap="round" stroke-linejoin="round"><circle cx="537" cy="540" r="505" fill="#FDEAD3"/><circle cx="248" cy="330" r="135" fill="#F24A3B"/><circle cx="770" cy="325" r="140" fill="#F24A3B"/><circle cx="335" cy="812" r="142" fill="#F24A3B"/><circle cx="835" cy="718" r="137" fill="#F24A3B"/><rect x="695" y="260" width="160" height="122" rx="10" fill="#D4D6DB" stroke="#222" stroke-width="6"/><rect x="706" y="275" width="105" height="95" rx="4" fill="#A9D8F7" stroke="#222" stroke-width="6"/><path d="M712,305 L740,305 L748,290 L758,320 L765,305 L805,305 M712,340 L740,340 L748,325 L758,355 L765,340 L805,340" stroke="#222" stroke-width="4" fill="none"/><circle cx="833" cy="285" r="6" fill="none" stroke="#222" stroke-width="4"/><path d="M822,310 L845,310 M822,325 L845,325 M822,340 L845,340 M822,355 L845,355" stroke="#222" stroke-width="4"/><path d="M740,282 C700,255 715,225 740,240 C765,225 780,255 740,282 Z" fill="#F4687E" stroke="#222" stroke-width="6"/><rect x="765" y="650" width="150" height="12" fill="#BFC4CC" stroke="#222" stroke-width="5"/><rect x="775" y="662" width="130" height="70" fill="#E6F4FA" stroke="#222" stroke-width="5"/><rect x="812" y="685" width="50" height="30" rx="3" fill="#fff" stroke="#222" stroke-width="5"/><path d="M818,700 L828,700 L832,692 L838,708 L842,700 L856,700" stroke="#222" stroke-width="3" fill="none"/><rect x="790" y="745" width="100" height="40" fill="#BFC4CC" stroke="#222" stroke-width="5"/><rect x="763" y="710" width="30" height="90" fill="#2B3A8F" stroke="#222" stroke-width="5"/><rect x="887" y="710" width="30" height="90" fill="#2B3A8F" stroke="#222" stroke-width="5"/><circle cx="778" cy="735" r="8" fill="#7F8CD0" stroke="#222" stroke-width="5"/><circle cx="778" cy="770" r="8" fill="#7F8CD0" stroke="#222" stroke-width="5"/><circle cx="902" cy="735" r="8" fill="#7F8CD0" stroke="#222" stroke-width="5"/><circle cx="902" cy="770" r="8" fill="#7F8CD0" stroke="#222" stroke-width="5"/><g transform="translate(239.3,707.5) scale(0.178)"><path d="M638,232 C580,140 470,75 350,72 C180,72 62,200 62,380 C62,450 82,500 117,530 C147,590 150,640 135,665 C100,710 100,760 130,785 C160,810 165,840 165,880 C165,980 220,1032 300,1032 C370,1032 420,990 430,940 C440,870 455,820 485,780 L600,640 L700,450 L680,300 Z" fill="#FDDFB5"/><path fill="none" stroke="#000" stroke-width="16" d="M635,230 C580,140 470,75 350,72 C180,72 62,200 62,380 C62,450 82,500 117,530 C147,590 150,640 135,665 C100,710 100,760 130,785 C160,810 165,840 165,880 C165,980 220,1032 300,1032 C370,1032 420,990 430,940"/><path fill="none" stroke="#000" stroke-width="16" d="M560,688 C520,740 470,780 450,830 C435,870 430,920 428,950"/><path fill="none" stroke="#000" stroke-width="16" d="M510,215 C440,160 330,150 250,190 C180,230 150,320 150,400 C150,490 200,550 270,570 C330,590 360,600 365,620 C370,640 340,645 300,645 C250,650 220,660 215,700 C210,750 220,795 260,800 C290,800 290,760 290,722"/><circle cx="550" cy="450" r="185" fill="#fff" stroke="#000" stroke-width="17"/><path d="M445,530 L500,455 L500,405 C500,380 520,365 545,365 L575,365 C600,365 615,385 615,405 L615,455 L665,530 Z" fill="#94FFFF" stroke="#000" stroke-width="15"/><path fill="none" stroke="#000" stroke-width="17" stroke-linejoin="miter" d="M775,390 L815,405 L808,352 L865,385 L862,300 L940,365 L918,240 L1015,350 L992,200"/><path fill="none" stroke="#000" stroke-width="17" stroke-linejoin="miter" d="M765,492 L810,480 L795,530 L855,505 L845,590 L930,532 L890,655 L1005,558 L962,705"/><path fill="none" stroke="#000" stroke-width="17" stroke-linejoin="miter" d="M700,610 L745,622 L705,660 L775,665 L720,735 L825,725 L730,815 L880,785 L770,890"/></g></g><g transform="translate(860,1470) scale(0.06445790898543252)" stroke-linecap="round" stroke-linejoin="round"><polygon points="469,535 477,484 543,484 551,535 583,544 612,560 653,530 700,577 670,618 686,647 695,679 746,687 746,753 695,761 686,793 670,822 700,863 653,910 612,880 583,896 551,905 543,956 477,956 469,905 437,896 408,880 367,910 320,863 350,822 334,793 325,761 274,753 274,687 325,679 334,647 350,618 320,577 367,530 408,560 437,544" fill="#F2A530" stroke="#333" stroke-width="16"/><path d="M510,530 A190,190 0 0 1 510,910 L510,720 Z" fill="#FFC107"/><path d="M300,420 L385,385 L525,690 L440,740 Z" fill="#8C9299" stroke="#333" stroke-width="16"/><path d="M640,400 L720,435 L585,765 L470,705 Z" fill="#BDC3C8" stroke="#333" stroke-width="16"/><circle cx="510" cy="720" r="105" fill="#C8CDD2" stroke="#333" stroke-width="16"/><circle cx="510" cy="720" r="48" fill="#F24A3B" stroke="#333" stroke-width="16"/><g transform="rotate(-30 280 310)"><rect x="150" y="195" width="260" height="225" rx="12" fill="#B9BEC3" stroke="#333" stroke-width="16"/><rect x="158" y="203" width="244" height="80" fill="#D9DEE2"/><path d="M170,240 L390,240 M170,280 L390,280" stroke="#333" stroke-width="14"/><circle cx="285" cy="340" r="34" fill="#F24A3B" stroke="#333" stroke-width="16"/></g><g transform="rotate(30 720 310)"><rect x="590" y="195" width="260" height="225" rx="12" fill="#D4DADF" stroke="#333" stroke-width="16"/><rect x="598" y="203" width="244" height="80" fill="#E8EEF1"/><path d="M610,240 L830,240 M610,280 L830,280" stroke="#333" stroke-width="14"/><circle cx="715" cy="340" r="34" fill="#F24A3B" stroke="#333" stroke-width="16"/></g></g><g transform="translate(800,1385) scale(0.3683241252302026)" stroke-linecap="round" stroke-linejoin="round"><clipPath id="c4clip"><circle cx="537" cy="540" r="505"/></clipPath><path d="M260,140 L820,948" stroke="#FA0505" stroke-width="40" clip-path="url(#c4clip)"/><circle cx="537" cy="540" r="505" fill="none" stroke="#FA0505" stroke-width="40"/><rect x="335" y="470" width="387" height="195" rx="35" fill="#FA0505"/></g>
<text x="941.7" y="1590.2" font-size="24.5" fill="#fff" textLength="106.6" lengthAdjust="spacingAndGlyphs">Restricted</text>
<text x="956.4" y="1614.1" font-size="24.5" fill="#fff" textLength="78.3" lengthAdjust="spacingAndGlyphs">Classes</text>
<path d="M1110,437 L1131,437 L1131,498.6 L1145.4,498.6 L1120.5500000000002,538.3 L1095.7,498.6 L1110,498.6 Z" fill="#FF8A00" stroke="#222" stroke-width="1.2" stroke-linejoin="miter"/>
<path d="M1102.7,893 L1123.8,893 L1123.8,954 L1137.7,954 L1112.35,994 L1087,954 L1102.7,954 Z" fill="#FF8A00" stroke="#222" stroke-width="1.2" stroke-linejoin="miter"/>
<path d="M1108,1325 L1129.5,1325 L1129.5,1388 L1144,1388 L1118.5,1428 L1093,1388 L1108,1388 Z" fill="#FF8A00" stroke="#222" stroke-width="1.2" stroke-linejoin="miter"/>
<text x="1234.4" y="151.0" font-size="62.0" textLength="35.5" lengthAdjust="spacingAndGlyphs">1.</text>
<text x="1344.4" y="207.5" font-size="72.5" font-weight="bold" textLength="336.8" lengthAdjust="spacingAndGlyphs">Ontology–</text>
<text x="1348.4" y="292.0" font-size="72.5" font-weight="bold" textLength="328.5" lengthAdjust="spacingAndGlyphs">based leaf</text>
<text x="1339.9" y="375.0" font-size="72.5" font-weight="bold" textLength="349.1" lengthAdjust="spacingAndGlyphs">absorption</text>
<text x="1248.2" y="629.0" font-size="62.0" textLength="51.7" lengthAdjust="spacingAndGlyphs">2.</text>
<text x="1343.4" y="663.8" font-size="72.5" font-weight="bold" textLength="367.8" lengthAdjust="spacingAndGlyphs">Removal of</text>
<text x="1344.1" y="746.9" font-size="72.5" font-weight="bold" textLength="365.1" lengthAdjust="spacingAndGlyphs">action–less</text>
<text x="1301.0" y="831.0" font-size="72.5" font-weight="bold" textLength="452.2" lengthAdjust="spacingAndGlyphs">sound classes</text>
<text x="1236.1" y="1062.0" font-size="62.0" textLength="51.8" lengthAdjust="spacingAndGlyphs">3.</text>
<text x="1335.2" y="1117.8" font-size="72.5" font-weight="bold" textLength="365.2" lengthAdjust="spacingAndGlyphs">Removal of</text>
<text x="1338.4" y="1201.5" font-size="72.5" font-weight="bold" textLength="357.8" lengthAdjust="spacingAndGlyphs">ambiguous</text>
<text x="1399.3" y="1285.7" font-size="72.5" font-weight="bold" textLength="237.1" lengthAdjust="spacingAndGlyphs">classes</text>
<text x="1235.2" y="1488.0" font-size="62.0" textLength="57.2" lengthAdjust="spacingAndGlyphs">4.</text>
<text x="1340.1" y="1523.0" font-size="72.5" font-weight="bold" textLength="367.6" lengthAdjust="spacingAndGlyphs">Removal of</text>
<text x="1355.3" y="1605.7" font-size="72.5" font-weight="bold" textLength="338.4" lengthAdjust="spacingAndGlyphs">Restricted</text>
<text x="1405.8" y="1688.0" font-size="72.5" font-weight="bold" textLength="237.4" lengthAdjust="spacingAndGlyphs">classes</text>
<text x="1384.8" y="1798.0" font-size="45.0" textLength="150.6" lengthAdjust="spacingAndGlyphs">Human</text>
<text x="1339.8" y="1852.4" font-size="45.0" textLength="240.6" lengthAdjust="spacingAndGlyphs">Verification</text>
<g transform="translate(1590,1680) scale(0.21081479919890375)" stroke-linecap="round" stroke-linejoin="round"><clipPath id="hclip"><circle cx="475" cy="543" r="400"/></clipPath><circle cx="475" cy="543" r="400" fill="#0A93FB"/><path d="M120,400 C90,560 130,700 200,780 L150,800 C80,700 60,520 120,400 Z" fill="#0882E0" clip-path="url(#hclip)"/><g clip-path="url(#hclip)"><path d="M100,760 C160,700 300,660 360,630 L590,630 C650,660 760,690 860,740 L860,960 L100,960 Z" fill="#FDD204"/><path d="M100,760 C120,740 140,730 160,720 C200,820 300,900 460,945 L100,960 Z" fill="#E8BE05"/></g><path d="M385,520 L570,520 L570,630 C540,680 420,680 385,630 Z" fill="#F7BB82"/><path d="M385,560 C440,610 520,610 570,560 L570,590 C520,640 440,640 385,590 Z" fill="#DFA673"/><path d="M360,630 C380,690 430,710 475,712 C520,710 570,690 590,630 Z" fill="#F7BB82"/><rect x="248" y="295" width="80" height="135" rx="35" fill="#E2A874"/><rect x="622" y="295" width="80" height="135" rx="35" fill="#E2A874"/><path d="M315,280 C315,230 380,212 475,212 C570,212 635,230 635,280 L635,420 C635,510 560,570 475,570 C390,570 315,510 315,420 Z" fill="#F7BB82"/><path d="M248,320 L248,190 C248,110 330,55 440,55 L600,55 C612,60 614,72 606,80 L585,110 C585,122 595,128 612,132 C680,145 702,190 702,232 L702,320 L636,300 C636,262 600,252 560,252 C520,252 500,217 475,217 C450,217 430,252 390,252 C350,252 318,262 315,300 Z" fill="#1D1F26"/><circle cx="830" cy="765" r="180" fill="#6FD940"/><path d="M720,680 C650,760 680,880 780,935 C700,930 640,860 650,765 C655,720 680,690 720,680 Z" fill="#5EC234"/><path d="M745,745 L815,815 L915,715" stroke="#fff" stroke-width="30" fill="none"/></g>
<text x="1926.2" y="234.0" font-size="75.5" font-weight="bold" textLength="500.0" lengthAdjust="spacingAndGlyphs" stroke="#000" stroke-width="2" stroke-linejoin="round">Stage 2: Class</text>
<text x="1926.2" y="323.8" font-size="75.5" font-weight="bold" textLength="483.3" lengthAdjust="spacingAndGlyphs" stroke="#000" stroke-width="2" stroke-linejoin="round">Guided Video</text>
<text x="1926.2" y="413.6" font-size="75.5" font-weight="bold" textLength="274.5" lengthAdjust="spacingAndGlyphs" stroke="#000" stroke-width="2" stroke-linejoin="round">filtering</text>
<rect x="1921.5" y="492.5" width="806.0" height="1121.5" rx="30" fill="#fff" stroke="#111" stroke-width="1.5"/>
<use href="#card-dog" x="1950.5" y="548.2" width="216.0" height="309.5"/>
<use href="#card-wc" x="2211.0" y="545.0" width="219.6" height="314.8"/>
<use href="#card-ear" x="2465.5" y="548.5" width="217.8" height="312.0"/>
<clipPath id="tc1"><path d="M1924.75,992.85 Q1924.75,972.85 1938.892,958.708 L2018.358,879.2420000000001 Q2032.5,865.1 2046.642,879.2420000000001 L2126.108,958.708 Q2140.25,972.85 2140.25,992.85 L2140.25,1218.75 Q2140.25,1238.75 2120.25,1238.75 L1944.75,1238.75 Q1924.75,1238.75 1924.75,1218.75 Z"/></clipPath><path d="M1924.75,992.85 Q1924.75,972.85 1938.892,958.708 L2018.358,879.2420000000001 Q2032.5,865.1 2046.642,879.2420000000001 L2126.108,958.708 Q2140.25,972.85 2140.25,992.85 L2140.25,1218.75 Q2140.25,1238.75 2120.25,1238.75 L1944.75,1238.75 Q1924.75,1238.75 1924.75,1218.75 Z" fill="#7DCB9D"/><path d="M2036.5,861.6 L2151,980.1 L2151,1249.5 L2119.5,1249.5 L2119.5,999.6 Q2119.5,989.6 2112.5,982.6 L2036.5,906.6 Z" fill="#64AC80" clip-path="url(#tc1)"/><path d="M1924.75,992.85 Q1924.75,972.85 1938.892,958.708 L2018.358,879.2420000000001 Q2032.5,865.1 2046.642,879.2420000000001 L2126.108,958.708 Q2140.25,972.85 2140.25,992.85 L2140.25,1218.75 Q2140.25,1238.75 2120.25,1238.75 L1944.75,1238.75 Q1924.75,1238.75 1924.75,1218.75 Z" fill="none" stroke="#000" stroke-width="11.5" stroke-linejoin="round"/><circle cx="2032.5" cy="953.6" r="29.2" fill="#fff" stroke="#000" stroke-width="11.3"/><line x1="2032.5" y1="868.5" x2="2032.5" y2="955.6" stroke="#000" stroke-width="11.0" stroke-linecap="round"/><rect x="2027.0" y="857" width="11.0" height="13.8" fill="#000"/>
<clipPath id="tc2"><path d="M2212.25,993.1 Q2212.25,973.1 2226.392,958.958 L2306.108,879.2420000000001 Q2320.25,865.1 2334.392,879.2420000000001 L2414.108,958.958 Q2428.25,973.1 2428.25,993.1 L2428.25,1220.25 Q2428.25,1240.25 2408.25,1240.25 L2232.25,1240.25 Q2212.25,1240.25 2212.25,1220.25 Z"/></clipPath><path d="M2212.25,993.1 Q2212.25,973.1 2226.392,958.958 L2306.108,879.2420000000001 Q2320.25,865.1 2334.392,879.2420000000001 L2414.108,958.958 Q2428.25,973.1 2428.25,993.1 L2428.25,1220.25 Q2428.25,1240.25 2408.25,1240.25 L2232.25,1240.25 Q2212.25,1240.25 2212.25,1220.25 Z" fill="#7DCB9D"/><path d="M2324.25,861.6 L2439,980.35 L2439,1251 L2407.5,1251 L2407.5,999.85 Q2407.5,989.85 2400.5,982.85 L2324.25,906.6 Z" fill="#64AC80" clip-path="url(#tc2)"/><path d="M2212.25,993.1 Q2212.25,973.1 2226.392,958.958 L2306.108,879.2420000000001 Q2320.25,865.1 2334.392,879.2420000000001 L2414.108,958.958 Q2428.25,973.1 2428.25,993.1 L2428.25,1220.25 Q2428.25,1240.25 2408.25,1240.25 L2232.25,1240.25 Q2212.25,1240.25 2212.25,1220.25 Z" fill="none" stroke="#000" stroke-width="11.5" stroke-linejoin="round"/><circle cx="2320.2" cy="953.6" r="29.2" fill="#fff" stroke="#000" stroke-width="11.3"/><line x1="2320.2" y1="870.5" x2="2320.2" y2="955.6" stroke="#000" stroke-width="11.0" stroke-linecap="round"/><rect x="2314.7" y="859" width="11.0" height="13.8" fill="#000"/>
<clipPath id="tc3"><path d="M2468.75,991.85 Q2468.75,971.85 2482.892,957.708 L2561.358,879.2420000000001 Q2575.5,865.1 2589.642,879.2420000000001 L2668.108,957.708 Q2682.25,971.85 2682.25,991.85 L2682.25,1216.85 Q2682.25,1236.85 2662.25,1236.85 L2488.75,1236.85 Q2468.75,1236.85 2468.75,1216.85 Z"/></clipPath><path d="M2468.75,991.85 Q2468.75,971.85 2482.892,957.708 L2561.358,879.2420000000001 Q2575.5,865.1 2589.642,879.2420000000001 L2668.108,957.708 Q2682.25,971.85 2682.25,991.85 L2682.25,1216.85 Q2682.25,1236.85 2662.25,1236.85 L2488.75,1236.85 Q2468.75,1236.85 2468.75,1216.85 Z" fill="#7DCB9D"/><path d="M2579.5,861.6 L2693,979.1 L2693,1247.6 L2661.5,1247.6 L2661.5,998.6 Q2661.5,988.6 2654.5,981.6 L2579.5,906.6 Z" fill="#64AC80" clip-path="url(#tc3)"/><path d="M2468.75,991.85 Q2468.75,971.85 2482.892,957.708 L2561.358,879.2420000000001 Q2575.5,865.1 2589.642,879.2420000000001 L2668.108,957.708 Q2682.25,971.85 2682.25,991.85 L2682.25,1216.85 Q2682.25,1236.85 2662.25,1236.85 L2488.75,1236.85 Q2468.75,1236.85 2468.75,1216.85 Z" fill="none" stroke="#000" stroke-width="11.5" stroke-linejoin="round"/><circle cx="2575.5" cy="953.6" r="29.2" fill="#fff" stroke="#000" stroke-width="11.3"/><line x1="2575.5" y1="871.5" x2="2575.5" y2="955.6" stroke="#000" stroke-width="11.0" stroke-linecap="round"/><rect x="2570.0" y="860" width="11.0" height="13.8" fill="#000"/>
<text x="1954.1" y="1050.0" font-size="49.0" textLength="162.5" lengthAdjust="spacingAndGlyphs" stroke="#7DCB9D" stroke-width="0.8">Animal,</text>
<text x="1986.2" y="1098.0" font-size="49.0" textLength="98.2" lengthAdjust="spacingAndGlyphs" stroke="#7DCB9D" stroke-width="0.8">Pets,</text>
<text x="1985.1" y="1146.3" font-size="49.0" textLength="100.1" lengthAdjust="spacingAndGlyphs" stroke="#7DCB9D" stroke-width="0.8">Dog,</text>
<text x="1987.0" y="1193.5" font-size="49.0" textLength="97.4" lengthAdjust="spacingAndGlyphs" stroke="#7DCB9D" stroke-width="0.8">Bark</text>
<text x="2242.2" y="1046.3" font-size="49.0" textLength="162.4" lengthAdjust="spacingAndGlyphs" stroke="#7DCB9D" stroke-width="0.8">Animal,</text>
<text x="2275.1" y="1093.5" font-size="49.0" textLength="98.4" lengthAdjust="spacingAndGlyphs" stroke="#7DCB9D" stroke-width="0.8">Pets,</text>
<text x="2279.9" y="1141.4" font-size="49.0" textLength="89.8" lengthAdjust="spacingAndGlyphs" stroke="#7DCB9D" stroke-width="0.8">Cat,</text>
<text x="2246.6" y="1189.8" font-size="49.0" textLength="153.2" lengthAdjust="spacingAndGlyphs" stroke="#7DCB9D" stroke-width="0.8">Speech</text>
<text x="2516.6" y="1079.0" font-size="49.0" textLength="117.3" lengthAdjust="spacingAndGlyphs" stroke="#7DCB9D" stroke-width="0.8">Otto-</text>
<text x="2492.9" y="1169.0" font-size="49.0" textLength="166.3" lengthAdjust="spacingAndGlyphs" stroke="#7DCB9D" stroke-width="0.8">Tinnitus</text>
<text x="2497.1" y="1121.0" font-size="39.0" textLength="158.1" lengthAdjust="spacingAndGlyphs" stroke="#7DCB9D" stroke-width="0.7">Acoustic,</text>
<rect x="1977.0" y="1312.5" width="724.7" height="117.1" rx="30" fill="#FDEBD6" stroke="#222" stroke-width="1.4"/>
<rect x="1970.0" y="1464.0" width="731.7" height="107.8" rx="30" fill="#FDEBD6" stroke="#222" stroke-width="1.4"/>
<text x="2212.5" y="1384.0" font-size="50.0" textLength="338.5" lengthAdjust="spacingAndGlyphs">Ancestry labels</text>
<text x="2165.1" y="1525.4" font-size="50.0" textLength="441.0" lengthAdjust="spacingAndGlyphs">Mutli-class samples</text>
<g transform="translate(1996.4,1313.5) scale(0.2685)" stroke-linecap="round" stroke-linejoin="round"><path d="M182,95 L228,100 L338,282 L330,318 L238,378 L205,372 Z" fill="#EA4C7E" stroke="#1A1A1A" stroke-width="15"/><path d="M62,70 L158,78 L280,287 L272,322 L178,372 L150,362 L38,165 L40,140 Z" fill="#FFC845" stroke="#1A1A1A" stroke-width="15"/><circle cx="110" cy="130" r="17" fill="#fff" stroke="#1A1A1A" stroke-width="15" stroke-width="12"/></g>
<g transform="translate(1975.6,1321.4) scale(0.234)" stroke-linecap="round" stroke-linejoin="round"><path fill="none" stroke="#1F1F1F" stroke-width="9" d="M240,717 L240,762 L185,762 L185,790"/><path fill="none" stroke="#1F1F1F" stroke-width="9" d="M345,717 L345,762 L400,762 L400,790"/><path fill="none" stroke="#1F1F1F" stroke-width="9" d="M165,826 L150,841 L150,868"/><path fill="none" stroke="#1F1F1F" stroke-width="9" d="M420,826 L435,841 L435,868"/><path fill="none" stroke="#1F1F1F" stroke-width="9" d="M115,870 L470,870"/><path fill="none" stroke="#1F1F1F" stroke-width="9" d="M200,870 L200,942 L160,942"/><path fill="none" stroke="#1F1F1F" stroke-width="9" d="M265,870 L265,915 L232,948 L232,975"/><path fill="none" stroke="#1F1F1F" stroke-width="9" d="M318,870 L318,915 L352,948 L352,975"/><path fill="none" stroke="#1F1F1F" stroke-width="9" d="M383,870 L383,942 L425,942"/><rect x="210" y="657" width="60" height="60" rx="7" fill="#3FA6EF" stroke="#1F1F1F" stroke-width="9"/><rect x="315" y="657" width="60" height="60" rx="7" fill="#FCC83F" stroke="#1F1F1F" stroke-width="9"/><rect x="162" y="790" width="44" height="44" rx="7" fill="#FCC83F" stroke="#1F1F1F" stroke-width="9"/><rect x="378" y="790" width="44" height="44" rx="7" fill="#3FA6EF" stroke="#1F1F1F" stroke-width="9"/><rect x="115" y="920" width="45" height="45" rx="7" fill="#3FA6EF" stroke="#1F1F1F" stroke-width="9"/><rect x="208" y="975" width="47" height="47" rx="7" fill="#FCC83F" stroke="#1F1F1F" stroke-width="9"/><rect x="328" y="975" width="47" height="47" rx="7" fill="#3FA6EF" stroke="#1F1F1F" stroke-width="9"/><rect x="425" y="920" width="45" height="45" rx="7" fill="#FCC83F" stroke="#1F1F1F" stroke-width="9"/></g>
<path d="M1828,1035 L1884.5,1035 L1884.5,1004 L1922,1065.0 L1884.5,1126 L1884.5,1090 L1828,1090 Z" fill="#FF8A00" stroke="#111" stroke-width="2" stroke-linejoin="miter"/>
<rect x="2813.0" y="25.8" width="816.7" height="1839.5" rx="26" fill="#fff" stroke="#111" stroke-width="1.5"/>
<circle cx="2962.0" cy="837.0" r="119.0" fill="#FDEBD6" stroke="#111" stroke-width="2.5"/>
<path stroke="#C8C8C8" stroke-width="2" fill="none" d="M2973,783 L2917.7,841 L2881.5,870.8 M2917.7,841 L2950.5,871.8 M3009,838.7 L3045,871.8"/><path stroke="#000" stroke-width="2" fill="none" d="M2973,783 L3009,838.7 L2995,877 L2994,914.9"/><circle cx="2917.7" cy="841" r="11" fill="#C8C8C8"/><circle cx="2881.5" cy="870.8" r="11" fill="#C8C8C8"/><circle cx="2950.5" cy="871.8" r="11" fill="#C8C8C8"/><circle cx="3045" cy="871.8" r="11" fill="#C8C8C8"/><circle cx="2971.7" cy="760.8" r="19.5" fill="#F2A011" stroke="#000" stroke-width="2"/><circle cx="3009" cy="838.7" r="10.5" fill="#F2A011" stroke="#000" stroke-width="1.8"/><circle cx="2995" cy="877" r="10.5" fill="#F2A011" stroke="#000" stroke-width="1.8"/><circle cx="2994" cy="914.9" r="10.5" fill="#6FD940" stroke="#000" stroke-width="1.8"/><path stroke="#F0463C" stroke-linecap="round" fill="none" stroke-width="5.5" d="M2953,742 L2990.5,779.5 M2990.5,742 L2953,779.5"/><path stroke="#F0463C" stroke-linecap="round" fill="none" stroke-width="3.5" d="M2998,828 L3020,849.5 M3020,828 L2998,849.5"/><path stroke="#F0463C" stroke-linecap="round" fill="none" stroke-width="3.5" d="M2984,866 L3006,888 M3006,866 L2984,888"/>
<use href="#card-dog" x="2855.4" y="54.8" width="196.0" height="285.0"/>
<use href="#card-wc" x="3118.5" y="54.0" width="196.5" height="285.8"/>
<use href="#card-ear" x="3380.2" y="54.0" width="197.3" height="285.8"/>
<clipPath id="tc4"><path d="M2862.1,449.5282608695652 Q2862.1,433.8760869565217 2873.1676521739128,422.8084347826087 L2942.082347826087,353.89373913043477 Q2953.1499999999996,342.82608695652175 2964.2176521739125,353.89373913043477 L3033.132347826087,422.8084347826087 Q3044.2,433.8760869565217 3044.2,449.5282608695652 L3044.2,645.0478260869565 Q3044.2,660.7 3028.5478260869563,660.7 L2877.7521739130434,660.7 Q2862.1,660.7 2862.1,645.0478260869565 Z"/></clipPath><path d="M2862.1,449.5282608695652 Q2862.1,433.8760869565217 2873.1676521739128,422.8084347826087 L2942.082347826087,353.89373913043477 Q2953.1499999999996,342.82608695652175 2964.2176521739125,353.89373913043477 L3033.132347826087,422.8084347826087 Q3044.2,433.8760869565217 3044.2,449.5282608695652 L3044.2,645.0478260869565 Q3044.2,660.7 3028.5478260869563,660.7 L2877.7521739130434,660.7 Q2862.1,660.7 2862.1,645.0478260869565 Z" fill="#7DCB9D"/><path d="M2957.1499999999996,339 L3053.7,439.5500000000002 L3053.7,670.2 L3025.7,670.2 L3025.7,456.5500000000002 Q3025.7,446.5500000000002 3018.7,439.5500000000002 L2957.1499999999996,378.0 Z" fill="#64AC80" clip-path="url(#tc4)"/><path d="M2862.1,449.5282608695652 Q2862.1,433.8760869565217 2873.1676521739128,422.8084347826087 L2942.082347826087,353.89373913043477 Q2953.1499999999996,342.82608695652175 2964.2176521739125,353.89373913043477 L3033.132347826087,422.8084347826087 Q3044.2,433.8760869565217 3044.2,449.5282608695652 L3044.2,645.0478260869565 Q3044.2,660.7 3028.5478260869563,660.7 L2877.7521739130434,660.7 Q2862.1,660.7 2862.1,645.0478260869565 Z" fill="none" stroke="#000" stroke-width="9" stroke-linejoin="round"/><circle cx="2953.1" cy="417.7" r="24.5" fill="#fff" stroke="#000" stroke-width="8.6"/><line x1="2953.1" y1="348.0" x2="2953.1" y2="419.7" stroke="#000" stroke-width="8.6" stroke-linecap="round"/><rect x="2948.8" y="339" width="8.6" height="10.8" fill="#000"/>
<clipPath id="tc5"><path d="M3128.1,449.6782608695653 Q3128.1,434.0260869565218 3139.1676521739128,422.9584347826088 L3208.2323478260873,353.89373913043477 Q3219.3,342.82608695652175 3230.367652173913,353.89373913043477 L3299.432347826087,422.9584347826088 Q3310.5,434.0260869565218 3310.5,449.6782608695653 L3310.5,643.8478260869565 Q3310.5,659.5 3294.8478260869565,659.5 L3143.7521739130434,659.5 Q3128.1,659.5 3128.1,643.8478260869565 Z"/></clipPath><path d="M3128.1,449.6782608695653 Q3128.1,434.0260869565218 3139.1676521739128,422.9584347826088 L3208.2323478260873,353.89373913043477 Q3219.3,342.82608695652175 3230.367652173913,353.89373913043477 L3299.432347826087,422.9584347826088 Q3310.5,434.0260869565218 3310.5,449.6782608695653 L3310.5,643.8478260869565 Q3310.5,659.5 3294.8478260869565,659.5 L3143.7521739130434,659.5 Q3128.1,659.5 3128.1,643.8478260869565 Z" fill="#7DCB9D"/><path d="M3223.3,339 L3320,439.6999999999998 L3320,669 L3292,669 L3292,456.6999999999998 Q3292,446.6999999999998 3285,439.6999999999998 L3223.3,378.0 Z" fill="#64AC80" clip-path="url(#tc5)"/><path d="M3128.1,449.6782608695653 Q3128.1,434.0260869565218 3139.1676521739128,422.9584347826088 L3208.2323478260873,353.89373913043477 Q3219.3,342.82608695652175 3230.367652173913,353.89373913043477 L3299.432347826087,422.9584347826088 Q3310.5,434.0260869565218 3310.5,449.6782608695653 L3310.5,643.8478260869565 Q3310.5,659.5 3294.8478260869565,659.5 L3143.7521739130434,659.5 Q3128.1,659.5 3128.1,643.8478260869565 Z" fill="none" stroke="#000" stroke-width="9" stroke-linejoin="round"/><circle cx="3219.3" cy="414.5" r="24.5" fill="#fff" stroke="#000" stroke-width="8.6"/><line x1="3219.3" y1="348.0" x2="3219.3" y2="416.5" stroke="#000" stroke-width="8.6" stroke-linecap="round"/><rect x="3215.0" y="339" width="8.6" height="10.8" fill="#000"/>
<clipPath id="tc6"><path d="M3388.5,451.72826086956525 Q3388.5,436.07608695652175 3399.567652173913,425.00843478260873 L3470.682347826087,353.89373913043477 Q3481.75,342.82608695652175 3492.817652173913,353.89373913043477 L3563.932347826087,425.00843478260873 Q3575.0,436.07608695652175 3575.0,451.72826086956525 L3575.0,643.8478260869565 Q3575.0,659.5 3559.3478260869565,659.5 L3404.1521739130435,659.5 Q3388.5,659.5 3388.5,643.8478260869565 Z"/></clipPath><path d="M3388.5,451.72826086956525 Q3388.5,436.07608695652175 3399.567652173913,425.00843478260873 L3470.682347826087,353.89373913043477 Q3481.75,342.82608695652175 3492.817652173913,353.89373913043477 L3563.932347826087,425.00843478260873 Q3575.0,436.07608695652175 3575.0,451.72826086956525 L3575.0,643.8478260869565 Q3575.0,659.5 3559.3478260869565,659.5 L3404.1521739130435,659.5 Q3388.5,659.5 3388.5,643.8478260869565 Z" fill="#7DCB9D"/><path d="M3485.75,339 L3584.5,441.75 L3584.5,669 L3556.5,669 L3556.5,458.75 Q3556.5,448.75 3549.5,441.75 L3485.75,378.0 Z" fill="#64AC80" clip-path="url(#tc6)"/><path d="M3388.5,451.72826086956525 Q3388.5,436.07608695652175 3399.567652173913,425.00843478260873 L3470.682347826087,353.89373913043477 Q3481.75,342.82608695652175 3492.817652173913,353.89373913043477 L3563.932347826087,425.00843478260873 Q3575.0,436.07608695652175 3575.0,451.72826086956525 L3575.0,643.8478260869565 Q3575.0,659.5 3559.3478260869565,659.5 L3404.1521739130435,659.5 Q3388.5,659.5 3388.5,643.8478260869565 Z" fill="none" stroke="#000" stroke-width="9" stroke-linejoin="round"/><circle cx="3481.8" cy="414.5" r="24.5" fill="#fff" stroke="#000" stroke-width="8.6"/><line x1="3481.8" y1="348.0" x2="3481.8" y2="416.5" stroke="#000" stroke-width="8.6" stroke-linecap="round"/><rect x="3477.4" y="339" width="8.6" height="10.8" fill="#000"/>
<text x="2906.6" y="552.9" font-size="48.0" textLength="97.2" lengthAdjust="spacingAndGlyphs" stroke="#7DCB9D" stroke-width="0.8">Bark</text>
<text x="3175.4" y="525.5" font-size="48.0" textLength="90.8" lengthAdjust="spacingAndGlyphs" stroke="#7DCB9D" stroke-width="0.8">Cat,</text>
<text x="3143.2" y="570.6" font-size="48.0" textLength="154.0" lengthAdjust="spacingAndGlyphs" stroke="#7DCB9D" stroke-width="0.8">Speech</text>
<text x="3404.9" y="555.8" font-size="48.0" textLength="156.5" lengthAdjust="spacingAndGlyphs" stroke="#7DCB9D" stroke-width="0.8">Tinnitus</text>
<use href="#card-dog" x="2854.8" y="993.4" width="196.8" height="285.6"/>
<use href="#card-wc" x="3120.3" y="990.4" width="196.9" height="285.6"/>
<use href="#card-ear" x="3380.4" y="993.4" width="196.9" height="285.6"/>
<clipPath id="tc7"><path d="M2861.5,1387.1782608695653 Q2861.5,1371.5260869565218 2872.567652173913,1360.4584347826087 L2941.132347826087,1291.8937391304348 Q2952.2,1280.8260869565217 2963.2676521739127,1291.8937391304348 L3031.8323478260872,1360.4584347826087 Q3042.9,1371.5260869565218 3042.9,1387.1782608695653 L3042.9,1584.8478260869565 Q3042.9,1600.5 3027.2478260869566,1600.5 L2877.1521739130435,1600.5 Q2861.5,1600.5 2861.5,1584.8478260869565 Z"/></clipPath><path d="M2861.5,1387.1782608695653 Q2861.5,1371.5260869565218 2872.567652173913,1360.4584347826087 L2941.132347826087,1291.8937391304348 Q2952.2,1280.8260869565217 2963.2676521739127,1291.8937391304348 L3031.8323478260872,1360.4584347826087 Q3042.9,1371.5260869565218 3042.9,1387.1782608695653 L3042.9,1584.8478260869565 Q3042.9,1600.5 3027.2478260869566,1600.5 L2877.1521739130435,1600.5 Q2861.5,1600.5 2861.5,1584.8478260869565 Z" fill="#7DCB9D"/><path d="M2956.2,1277 L3052.4,1377.2000000000003 L3052.4,1610 L3024.4,1610 L3024.4,1394.2000000000003 Q3024.4,1384.2000000000003 3017.4,1377.2000000000003 L2956.2,1316.0 Z" fill="#64AC80" clip-path="url(#tc7)"/><path d="M2861.5,1387.1782608695653 Q2861.5,1371.5260869565218 2872.567652173913,1360.4584347826087 L2941.132347826087,1291.8937391304348 Q2952.2,1280.8260869565217 2963.2676521739127,1291.8937391304348 L3031.8323478260872,1360.4584347826087 Q3042.9,1371.5260869565218 3042.9,1387.1782608695653 L3042.9,1584.8478260869565 Q3042.9,1600.5 3027.2478260869566,1600.5 L2877.1521739130435,1600.5 Q2861.5,1600.5 2861.5,1584.8478260869565 Z" fill="none" stroke="#000" stroke-width="9" stroke-linejoin="round"/><circle cx="2952.2" cy="1355.7" r="24.5" fill="#fff" stroke="#000" stroke-width="8.6"/><line x1="2952.2" y1="1287.0" x2="2952.2" y2="1357.7" stroke="#000" stroke-width="8.6" stroke-linecap="round"/><rect x="2947.9" y="1278" width="8.6" height="10.8" fill="#000"/>
<clipPath id="tc8"><path d="M3130.9,1385.6782608695653 Q3130.9,1370.0260869565218 3141.967652173913,1358.9584347826087 L3211.0323478260875,1289.8937391304348 Q3222.1000000000004,1278.8260869565217 3233.167652173913,1289.8937391304348 L3302.2323478260873,1358.9584347826087 Q3313.3,1370.0260869565218 3313.3,1385.6782608695653 L3313.3,1578.8478260869565 Q3313.3,1594.5 3297.6478260869567,1594.5 L3146.5521739130436,1594.5 Q3130.9,1594.5 3130.9,1578.8478260869565 Z"/></clipPath><path d="M3130.9,1385.6782608695653 Q3130.9,1370.0260869565218 3141.967652173913,1358.9584347826087 L3211.0323478260875,1289.8937391304348 Q3222.1000000000004,1278.8260869565217 3233.167652173913,1289.8937391304348 L3302.2323478260873,1358.9584347826087 Q3313.3,1370.0260869565218 3313.3,1385.6782608695653 L3313.3,1578.8478260869565 Q3313.3,1594.5 3297.6478260869567,1594.5 L3146.5521739130436,1594.5 Q3130.9,1594.5 3130.9,1578.8478260869565 Z" fill="#7DCB9D"/><path d="M3226.1000000000004,1275 L3322.8,1375.6999999999998 L3322.8,1604 L3294.8,1604 L3294.8,1392.6999999999998 Q3294.8,1382.6999999999998 3287.8,1375.6999999999998 L3226.1000000000004,1314.0 Z" fill="#64AC80" clip-path="url(#tc8)"/><path d="M3130.9,1385.6782608695653 Q3130.9,1370.0260869565218 3141.967652173913,1358.9584347826087 L3211.0323478260875,1289.8937391304348 Q3222.1000000000004,1278.8260869565217 3233.167652173913,1289.8937391304348 L3302.2323478260873,1358.9584347826087 Q3313.3,1370.0260869565218 3313.3,1385.6782608695653 L3313.3,1578.8478260869565 Q3313.3,1594.5 3297.6478260869567,1594.5 L3146.5521739130436,1594.5 Q3130.9,1594.5 3130.9,1578.8478260869565 Z" fill="none" stroke="#000" stroke-width="9" stroke-linejoin="round"/><circle cx="3222.1" cy="1350.5" r="24.5" fill="#fff" stroke="#000" stroke-width="8.6"/><line x1="3222.1" y1="1284.0" x2="3222.1" y2="1352.5" stroke="#000" stroke-width="8.6" stroke-linecap="round"/><rect x="3217.8" y="1275" width="8.6" height="10.8" fill="#000"/>
<clipPath id="tc9"><path d="M3390.5,1388.4782608695652 Q3390.5,1372.8260869565217 3401.567652173913,1361.7584347826087 L3471.432347826087,1291.8937391304348 Q3482.5,1280.8260869565217 3493.567652173913,1291.8937391304348 L3563.432347826087,1361.7584347826087 Q3574.5,1372.8260869565217 3574.5,1388.4782608695652 L3574.5,1583.8478260869565 Q3574.5,1599.5 3558.8478260869565,1599.5 L3406.1521739130435,1599.5 Q3390.5,1599.5 3390.5,1583.8478260869565 Z"/></clipPath><path d="M3390.5,1388.4782608695652 Q3390.5,1372.8260869565217 3401.567652173913,1361.7584347826087 L3471.432347826087,1291.8937391304348 Q3482.5,1280.8260869565217 3493.567652173913,1291.8937391304348 L3563.432347826087,1361.7584347826087 Q3574.5,1372.8260869565217 3574.5,1388.4782608695652 L3574.5,1583.8478260869565 Q3574.5,1599.5 3558.8478260869565,1599.5 L3406.1521739130435,1599.5 Q3390.5,1599.5 3390.5,1583.8478260869565 Z" fill="#7DCB9D"/><path d="M3486.5,1277 L3584,1378.5 L3584,1609 L3556,1609 L3556,1395.5 Q3556,1385.5 3549,1378.5 L3486.5,1316.0 Z" fill="#64AC80" clip-path="url(#tc9)"/><path d="M3390.5,1388.4782608695652 Q3390.5,1372.8260869565217 3401.567652173913,1361.7584347826087 L3471.432347826087,1291.8937391304348 Q3482.5,1280.8260869565217 3493.567652173913,1291.8937391304348 L3563.432347826087,1361.7584347826087 Q3574.5,1372.8260869565217 3574.5,1388.4782608695652 L3574.5,1583.8478260869565 Q3574.5,1599.5 3558.8478260869565,1599.5 L3406.1521739130435,1599.5 Q3390.5,1599.5 3390.5,1583.8478260869565 Z" fill="none" stroke="#000" stroke-width="9" stroke-linejoin="round"/><circle cx="3482.5" cy="1352.5" r="24.5" fill="#fff" stroke="#000" stroke-width="8.6"/><line x1="3482.5" y1="1287.0" x2="3482.5" y2="1354.5" stroke="#000" stroke-width="8.6" stroke-linecap="round"/><rect x="3478.2" y="1278" width="8.6" height="10.8" fill="#000"/>
<text x="2905.2" y="1491.7" font-size="48.0" textLength="99.2" lengthAdjust="spacingAndGlyphs" stroke="#7DCB9D" stroke-width="0.8">Bark</text>
<text x="3178.6" y="1461.4" font-size="48.0" textLength="88.8" lengthAdjust="spacingAndGlyphs" stroke="#7DCB9D" stroke-width="0.8">Cat,</text>
<text x="3144.1" y="1507.0" font-size="48.0" textLength="155.1" lengthAdjust="spacingAndGlyphs" stroke="#7DCB9D" stroke-width="0.8">Speech</text>
<text x="3405.4" y="1493.6" font-size="48.0" textLength="155.7" lengthAdjust="spacingAndGlyphs" stroke="#7DCB9D" stroke-width="0.8">Tinnitus</text>
<path d="M3138.5,1054.2 L3313.6,1227.4 M3313.6,1054.2 L3138.5,1227.4" stroke="#F0463C" stroke-width="21" stroke-linecap="round"/>
<path d="M3395,1054 L3568,1227 M3568,1054 L3395,1227" stroke="#F0463C" stroke-width="21" stroke-linecap="round"/>
<path d="M3253.9,900 L3269.6,900 L3269.6,946 L3280,946 L3261.5,976 L3243,946 L3253.9,946 Z" fill="#FF8A00" stroke="#222" stroke-width="1.2" stroke-linejoin="miter"/>
<text x="3096.3" y="766.0" font-size="62.0" textLength="34.1" lengthAdjust="spacingAndGlyphs">1.</text>
<text x="3238.3" y="752.0" font-size="54.5" textLength="248.9" lengthAdjust="spacingAndGlyphs">Removing</text>
<text x="3134.3" y="817.0" font-size="54.5" textLength="457.8" lengthAdjust="spacingAndGlyphs">ancestor labels for</text>
<text x="3205.3" y="882.0" font-size="54.5" textLength="314.4" lengthAdjust="spacingAndGlyphs">each sample</text>
<circle cx="2957.7" cy="1729.5" r="106.0" fill="#FDEBD6" stroke="#111" stroke-width="2"/>
<g transform="translate(2880,1650) scale(0.1381692573402418)" stroke-linecap="round" stroke-linejoin="round"><ellipse cx="562" cy="448" rx="460" ry="48" fill="#5A9BE8"/><rect x="358" y="118" width="410" height="360" rx="25" fill="#C8CDD5"/><rect x="358" y="245" width="410" height="125" fill="#AEB4BE"/><path d="M358,480 L358,140 Q358,118 380,118 L745,118 Q768,118 768,140 L768,480" fill="none" stroke="#333" stroke-width="26"/><path d="M358,245 L768,245 M358,370 L768,370" stroke="#333" stroke-width="26"/><path d="M430,180 L432,180 M508,180 L510,180 M655,180 L712,180" stroke="#333" stroke-width="34"/><path d="M430,307 L432,307 M508,307 L510,307 M655,307 L712,307" stroke="#333" stroke-width="34"/><path d="M430,435 L432,435 M508,435 L510,435 M655,435 L712,435" stroke="#333" stroke-width="34"/><path d="M102,448 C102,415 330,400 358,400 M768,400 C800,400 1025,415 1025,448 L1025,580" fill="none" stroke="#333" stroke-width="26"/><path d="M102,448 C150,480 350,495 562,495 C780,495 980,480 1025,448 L1025,590 C980,610 780,625 562,625 C350,625 150,610 102,585 Z" fill="#5A8FDA"/><path d="M102,448 C150,480 350,495 562,495 C780,495 980,480 1025,448" fill="none" stroke="#333" stroke-width="26"/><path d="M102,448 L102,580 C150,605 350,622 562,622 C750,622 900,612 950,605" fill="none" stroke="#333" stroke-width="26"/><path d="M200,622 L480,830 Q495,842 495,860 L495,1030 Q500,1045 520,1035 L615,980 Q630,970 630,950 L630,850 Q632,835 645,825 L930,620 Z" fill="#6BA3E6" stroke="#333" stroke-width="26"/><path d="M230,110 L230,330 M175,275 L230,330 L285,275 M900,110 L900,330 M845,275 L900,330 L955,275" fill="none" stroke="#333" stroke-width="26"/></g>
<text x="3080.3" y="1696.0" font-size="62.0" textLength="51.8" lengthAdjust="spacingAndGlyphs">2.</text>
<text x="3183.9" y="1697.9" font-size="54.5" textLength="332.3" lengthAdjust="spacingAndGlyphs">Filter by valid</text>
<text x="3207.1" y="1762.8" font-size="54.5" textLength="285.2" lengthAdjust="spacingAndGlyphs">classes and</text>
<text x="3266.3" y="1827.7" font-size="54.5" textLength="167.3" lengthAdjust="spacingAndGlyphs">relabel</text>
<rect x="3712.8" y="556.2" width="760.9" height="876.8" rx="30" fill="#fff" stroke="#111" stroke-width="1.5"/>
<text x="4039.6" y="651.7" font-size="49.0" font-weight="bold" textLength="290.9" lengthAdjust="spacingAndGlyphs">Audio–Video</text>
<text x="4041.6" y="709.0" font-size="49.0" font-weight="bold" textLength="285.9" lengthAdjust="spacingAndGlyphs">Semantically</text>
<text x="3993.2" y="766.6" font-size="49.0" font-weight="bold" textLength="383.9" lengthAdjust="spacingAndGlyphs">aligned AudioSet</text>
<rect x="3783.0" y="863.3" width="650.0" height="148.4" rx="32" fill="#FDEBD6" stroke="#222" stroke-width="1.4"/>
<rect x="3783.0" y="1053.4" width="650.0" height="148.6" rx="32" fill="#FDEBD6" stroke="#222" stroke-width="1.4"/>
<rect x="3783.0" y="1249.0" width="651.0" height="148.3" rx="32" fill="#FDEBD6" stroke="#222" stroke-width="1.4"/>
<text x="4056.2" y="958.4" font-size="52.0" textLength="228.2" lengthAdjust="spacingAndGlyphs">61 Classes</text>
<text x="3952.8" y="1140.5" font-size="44.0" textLength="438.1" lengthAdjust="spacingAndGlyphs">Single Sounding Objects</text>
<text x="3950.6" y="1340.7" font-size="47.0" textLength="418.9" lengthAdjust="spacingAndGlyphs">Action visible videos</text>
<g transform="translate(3730,590) scale(0.1933226361474665)" stroke-linecap="round" stroke-linejoin="round"><circle cx="160" cy="165" r="85" fill="#FFD94A" stroke="#000" stroke-width="34"/><path d="M202.5,101.25 A70.55,70.55 0 0 1 96.25,207.5 A76.5,76.5 0 0 0 202.5,101.25 Z" fill="#E9B800"/><circle cx="405" cy="112" r="70" fill="#FFD94A" stroke="#000" stroke-width="34"/><path d="M440.0,59.5 A58.099999999999994,58.099999999999994 0 0 1 352.5,147.0 A63.0,63.0 0 0 0 440.0,59.5 Z" fill="#E9B800"/><circle cx="578" cy="200" r="52" fill="#FFD94A" stroke="#000" stroke-width="34"/><path d="M604.0,161.0 A43.16,43.16 0 0 1 539.0,226.0 A46.800000000000004,46.800000000000004 0 0 0 604.0,161.0 Z" fill="#E9B800"/><circle cx="787" cy="130" r="85" fill="#FFD94A" stroke="#000" stroke-width="34"/><path d="M829.5,66.25 A70.55,70.55 0 0 1 723.25,172.5 A76.5,76.5 0 0 0 829.5,66.25 Z" fill="#E9B800"/><circle cx="1012" cy="148" r="52" fill="#FFD94A" stroke="#000" stroke-width="34"/><path d="M1038.0,109.0 A43.16,43.16 0 0 1 973.0,174.0 A46.800000000000004,46.800000000000004 0 0 0 1038.0,109.0 Z" fill="#E9B800"/><path d="M50,322 L1070,322 L665,570 L665,740 L455,740 L455,570 Z" fill="#58A2FF"/><path d="M1000,340 L1035,340 L650,575 L650,725 L470,725 L470,690 L612,690 L612,520 Z" fill="#0A64F0"/><path d="M50,322 L1070,322 L665,570 L665,740 L455,740 L455,570 Z" fill="none" stroke="#000" stroke-width="34"/><path d="M562,375 L562,550 M505,500 L562,557 L620,500" fill="none" stroke="#000" stroke-width="34"/><circle cx="178" cy="825" r="120" fill="#46F8FF" stroke="#000" stroke-width="34"/><path d="M273,765 A110,110 0 0 1 83,880 A130,130 0 0 0 273,765 Z" fill="#00D7E0"/><path d="M125,830 L180,865 L235,775" fill="none" stroke="#000" stroke-width="30"/><circle cx="562" cy="930" r="120" fill="#46F8FF" stroke="#000" stroke-width="34"/><path d="M657,870 A110,110 0 0 1 467,985 A130,130 0 0 0 657,870 Z" fill="#00D7E0"/><path d="M509,935 L564,970 L619,880" fill="none" stroke="#000" stroke-width="30"/><circle cx="942" cy="825" r="120" fill="#46F8FF" stroke="#000" stroke-width="34"/><path d="M1037,765 A110,110 0 0 1 847,880 A130,130 0 0 0 1037,765 Z" fill="#00D7E0"/><path d="M889,830 L944,865 L999,775" fill="none" stroke="#000" stroke-width="30"/></g>
<g transform="translate(3805.5,877.9) scale(0.2721)" stroke-linecap="round" stroke-linejoin="round"><path d="M182,95 L228,100 L338,282 L330,318 L238,378 L205,372 Z" fill="#EA4C7E" stroke="#1A1A1A" stroke-width="15"/><path d="M62,70 L158,78 L280,287 L272,322 L178,372 L150,362 L38,165 L40,140 Z" fill="#FFC845" stroke="#1A1A1A" stroke-width="15"/><circle cx="110" cy="130" r="17" fill="#fff" stroke="#1A1A1A" stroke-width="15" stroke-width="12"/></g>
<g transform="translate(3800,1070) scale(0.2760143527463428)" stroke-linecap="round" stroke-linejoin="round"><path fill="none" stroke="#000" stroke-width="22" d="M95,45 L95,370 M95,97 L200,97 M95,210 L200,210 M95,322 L200,322"/><rect x="200" y="62" width="112" height="68" rx="6" fill="none" stroke="#000" stroke-width="22"/><rect x="200" y="175" width="162" height="68" rx="6" fill="none" stroke="#000" stroke-width="22"/><rect x="200" y="287" width="210" height="68" rx="6" fill="none" stroke="#000" stroke-width="22"/></g>
<g transform="translate(3805,1275) scale(0.08748906386701663)" stroke-linecap="round" stroke-linejoin="round"><circle cx="755" cy="195" r="105" fill="#000"/><path d="M235,835 L530,395 L490,365 L370,455 C340,470 305,430 315,380 L420,240 C440,215 470,205 500,215 L780,350 L905,255 C930,240 960,280 955,320 C950,370 900,420 850,480 C830,500 790,505 760,490 L690,465 L635,560 L730,625 C760,645 770,680 760,720 L715,835 L550,835 L590,715 L525,685 L430,835 Z" fill="#000"/><path fill="none" stroke="#000" stroke-width="50" stroke-linecap="round" stroke-linejoin="round" d="M380,118 L600,118 M165,222 L335,222 M115,382 L230,382 M165,542 L335,542 M115,702 L230,702"/><path fill="none" stroke="#000" stroke-width="50" stroke-linecap="round" stroke-linejoin="round" d="M115,970 L115,860 L965,860 L965,970 M330,860 L330,970 M540,860 L540,970 M755,860 L755,970"/><path fill="none" stroke="#000" stroke-width="50" stroke-linecap="round" stroke-linejoin="round" stroke-width="45" d="M815,835 L905,648 L965,648 M880,755 L965,755"/></g>
<path d="M2728,1062.5 L2783.5,1062.5 L2783.5,1043.2 L2818.9,1077.15 L2783.5,1111.1 L2783.5,1091.8 L2728,1091.8 Z" fill="#FF8A00" stroke="#111" stroke-width="1.2" stroke-linejoin="miter"/>
<path d="M3628.6,1059.6 L3684.7,1059.6 L3684.7,1041.4 L3719.6,1075.4 L3684.7,1109.4 L3684.7,1089.3 L3628.6,1089.3 Z" fill="#FF8A00" stroke="#111" stroke-width="1.2" stroke-linejoin="miter"/>
<path d="M738,1019.3 L778,1019.3 L778,1004.6 L804,1031.8 L778,1059 L778,1043.7 L738,1043.7 Z" fill="#FF8A00" stroke="#111" stroke-width="1.2" stroke-linejoin="miter"/>
</svg>
</body></html>
